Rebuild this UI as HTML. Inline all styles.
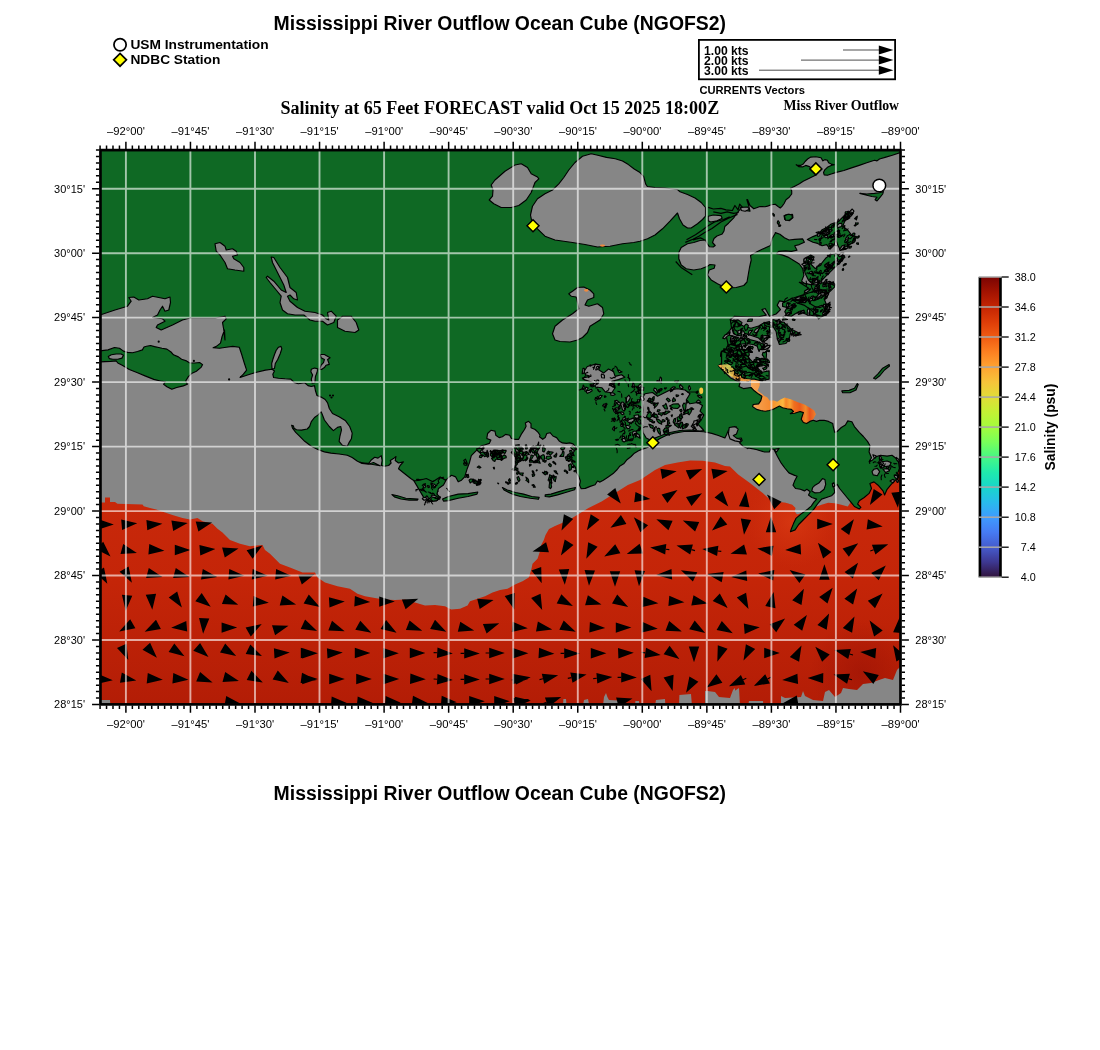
<!DOCTYPE html>
<html lang="en"><head><meta charset="utf-8"><title>Mississippi River Outflow Ocean Cube (NGOFS2)</title>
<style>html,body{margin:0;padding:0;background:#fff}body{width:1100px;height:1050px;overflow:hidden;font-family:"Liberation Sans",Arial,Helvetica,sans-serif}svg{display:block}</style>
</head><body>
<svg width="1100" height="1050" viewBox="0 0 1100 1050">
<defs>
<clipPath id="mapclip"><rect x="100.45" y="150.1" width="800.05" height="554.3"/></clipPath>
<linearGradient id="turbo" x1="0" y1="1" x2="0" y2="0">
<stop offset="0.0" stop-color="#30123b"/>
<stop offset="0.05" stop-color="#3d3790"/>
<stop offset="0.1" stop-color="#455bcd"/>
<stop offset="0.15" stop-color="#467bf3"/>
<stop offset="0.2" stop-color="#3e9bfe"/>
<stop offset="0.25" stop-color="#28bbec"/>
<stop offset="0.3" stop-color="#18d6cb"/>
<stop offset="0.35" stop-color="#20eaac"/>
<stop offset="0.4" stop-color="#46f884"/>
<stop offset="0.45" stop-color="#78ff5a"/>
<stop offset="0.5" stop-color="#a4fc3c"/>
<stop offset="0.55" stop-color="#c3f134"/>
<stop offset="0.6" stop-color="#e1dd37"/>
<stop offset="0.65" stop-color="#f6c33a"/>
<stop offset="0.7" stop-color="#fea331"/>
<stop offset="0.75" stop-color="#fc8021"/>
<stop offset="0.8" stop-color="#f05b12"/>
<stop offset="0.85" stop-color="#de3d08"/>
<stop offset="0.9" stop-color="#c42503"/>
<stop offset="0.95" stop-color="#a31301"/>
<stop offset="1.0" stop-color="#7a0403"/>
</linearGradient>
</defs>
<rect width="1100" height="1050" fill="#fff"/>
<g clip-path="url(#mapclip)">
<rect x="100.45" y="150.1" width="800.05" height="554.3" fill="#0f6924"/>
<rect x="95" y="145" width="812" height="565" fill="#868686"/>
<defs><linearGradient id="redg" gradientUnits="userSpaceOnUse" x1="0" y1="460" x2="0" y2="704"><stop offset="0" stop-color="#ca2a0b"/><stop offset="0.5" stop-color="#c42508"/><stop offset="1" stop-color="#b31d06"/></linearGradient><radialGradient id="redhi" gradientUnits="userSpaceOnUse" cx="792" cy="522" r="46"><stop offset="0" stop-color="#e44418" stop-opacity="0.5"/><stop offset="0.6" stop-color="#dc3a12" stop-opacity="0.25"/><stop offset="1" stop-color="#d03010" stop-opacity="0"/></radialGradient><radialGradient id="reddk" gradientUnits="userSpaceOnUse" cx="862" cy="672" r="52"><stop offset="0" stop-color="#9a1204" stop-opacity="0.6"/><stop offset="1" stop-color="#9a1204" stop-opacity="0"/></radialGradient></defs>
<path d="M97.5 502.5 105.0 502.5 105.0 497.5 110.0 497.5 110.0 502.0 115.0 502.0 117.5 503.8 142.5 504.5 143.8 506.2 150.0 508.0 156.2 509.5 165.0 512.5 172.5 515.0 182.5 518.0 190.0 519.5 197.5 518.0 202.5 521.2 212.5 523.8 217.5 528.8 222.5 532.5 227.5 537.5 230.0 540.0 240.0 543.8 250.0 546.2 262.5 545.0 265.0 550.0 270.0 553.8 275.0 558.8 280.0 563.8 290.0 567.5 302.5 572.5 315.0 572.5 317.5 577.5 325.0 582.5 337.5 586.2 350.0 588.8 357.5 593.8 365.0 596.2 365.0 596.2 375.0 598.0 383.8 599.5 395.0 600.0 405.0 599.5 415.0 602.5 425.0 605.5 435.0 605.0 445.0 606.2 451.2 609.5 460.0 608.8 467.5 605.5 470.0 601.2 477.5 598.8 485.0 596.2 492.5 592.5 500.0 590.0 507.5 588.8 515.0 584.5 522.5 581.2 528.8 577.5 531.2 570.0 532.5 563.8 537.5 558.8 540.0 551.2 541.2 545.0 543.8 540.0 545.5 535.0 549.0 529.0 555.0 526.0 562.0 523.0 568.9 520.0 588.5 508.0 601.6 501.5 614.7 493.3 627.8 485.0 640.0 480.0 647.5 475.0 655.0 470.0 665.0 465.0 677.5 462.5 690.0 460.5 702.5 460.7 715.0 462.5 725.0 466.0 730.0 466.4 738.2 474.5 749.6 482.7 762.7 492.9 769.3 499.0 774.2 502.4 779.0 502.0 785.6 502.7 792.2 504.8 795.5 508.0 794.6 511.4 797.0 514.6 805.0 512.0 814.3 507.3 821.6 504.8 828.2 502.7 834.7 503.2 841.3 504.8 847.8 506.5 852.0 500.0 850.0 480.0 870.0 470.0 905.0 470.0 905.0 710.0 95.0 710.0 95.0 502.0Z" fill="url(#redg)"/>
<path d="M97.5 502.5 105.0 502.5 105.0 497.5 110.0 497.5 110.0 502.0 115.0 502.0 117.5 503.8 142.5 504.5 143.8 506.2 150.0 508.0 156.2 509.5 165.0 512.5 172.5 515.0 182.5 518.0 190.0 519.5 197.5 518.0 202.5 521.2 212.5 523.8 217.5 528.8 222.5 532.5 227.5 537.5 230.0 540.0 240.0 543.8 250.0 546.2 262.5 545.0 265.0 550.0 270.0 553.8 275.0 558.8 280.0 563.8 290.0 567.5 302.5 572.5 315.0 572.5 317.5 577.5 325.0 582.5 337.5 586.2 350.0 588.8 357.5 593.8 365.0 596.2 365.0 596.2 375.0 598.0 383.8 599.5 395.0 600.0 405.0 599.5 415.0 602.5 425.0 605.5 435.0 605.0 445.0 606.2 451.2 609.5 460.0 608.8 467.5 605.5 470.0 601.2 477.5 598.8 485.0 596.2 492.5 592.5 500.0 590.0 507.5 588.8 515.0 584.5 522.5 581.2 528.8 577.5 531.2 570.0 532.5 563.8 537.5 558.8 540.0 551.2 541.2 545.0 543.8 540.0 545.5 535.0 549.0 529.0 555.0 526.0 562.0 523.0 568.9 520.0 588.5 508.0 601.6 501.5 614.7 493.3 627.8 485.0 640.0 480.0 647.5 475.0 655.0 470.0 665.0 465.0 677.5 462.5 690.0 460.5 702.5 460.7 715.0 462.5 725.0 466.0 730.0 466.4 738.2 474.5 749.6 482.7 762.7 492.9 769.3 499.0 774.2 502.4 779.0 502.0 785.6 502.7 792.2 504.8 795.5 508.0 794.6 511.4 797.0 514.6 805.0 512.0 814.3 507.3 821.6 504.8 828.2 502.7 834.7 503.2 841.3 504.8 847.8 506.5 852.0 500.0 850.0 480.0 870.0 470.0 905.0 470.0 905.0 710.0 95.0 710.0 95.0 502.0Z" fill="url(#redhi)"/>
<path d="M97.5 502.5 105.0 502.5 105.0 497.5 110.0 497.5 110.0 502.0 115.0 502.0 117.5 503.8 142.5 504.5 143.8 506.2 150.0 508.0 156.2 509.5 165.0 512.5 172.5 515.0 182.5 518.0 190.0 519.5 197.5 518.0 202.5 521.2 212.5 523.8 217.5 528.8 222.5 532.5 227.5 537.5 230.0 540.0 240.0 543.8 250.0 546.2 262.5 545.0 265.0 550.0 270.0 553.8 275.0 558.8 280.0 563.8 290.0 567.5 302.5 572.5 315.0 572.5 317.5 577.5 325.0 582.5 337.5 586.2 350.0 588.8 357.5 593.8 365.0 596.2 365.0 596.2 375.0 598.0 383.8 599.5 395.0 600.0 405.0 599.5 415.0 602.5 425.0 605.5 435.0 605.0 445.0 606.2 451.2 609.5 460.0 608.8 467.5 605.5 470.0 601.2 477.5 598.8 485.0 596.2 492.5 592.5 500.0 590.0 507.5 588.8 515.0 584.5 522.5 581.2 528.8 577.5 531.2 570.0 532.5 563.8 537.5 558.8 540.0 551.2 541.2 545.0 543.8 540.0 545.5 535.0 549.0 529.0 555.0 526.0 562.0 523.0 568.9 520.0 588.5 508.0 601.6 501.5 614.7 493.3 627.8 485.0 640.0 480.0 647.5 475.0 655.0 470.0 665.0 465.0 677.5 462.5 690.0 460.5 702.5 460.7 715.0 462.5 725.0 466.0 730.0 466.4 738.2 474.5 749.6 482.7 762.7 492.9 769.3 499.0 774.2 502.4 779.0 502.0 785.6 502.7 792.2 504.8 795.5 508.0 794.6 511.4 797.0 514.6 805.0 512.0 814.3 507.3 821.6 504.8 828.2 502.7 834.7 503.2 841.3 504.8 847.8 506.5 852.0 500.0 850.0 480.0 870.0 470.0 905.0 470.0 905.0 710.0 95.0 710.0 95.0 502.0Z" fill="url(#reddk)"/>
<path d="M563.0 706.0 563.4 699.0 566.0 699.0 566.6 706.0ZM583.0 706.0 584.0 700.0 588.0 699.0 589.4 706.0ZM603.0 706.0 604.0 697.0 606.0 693.0 607.4 697.0 609.0 700.0 619.0 700.4 619.4 706.0ZM635.0 706.0 635.4 701.0 639.0 701.0 639.4 706.0ZM655.0 706.0 656.0 700.0 665.0 699.0 665.4 706.0ZM679.0 706.0 679.4 695.0 691.0 694.0 692.0 706.0ZM707.0 706.0 707.4 691.0 715.0 692.0 719.0 697.0 730.0 698.0 733.0 690.0 735.0 688.0 735.0 706.0ZM705.0 706.0 705.0 691.0 713.0 692.0 717.0 697.0 725.0 702.0 729.0 702.0 733.0 692.0 739.0 688.0 740.0 706.0ZM748.0 706.0 749.0 701.0 763.0 701.0 763.4 706.0ZM781.0 706.0 781.0 696.0 785.0 698.0 801.0 697.0 803.0 691.0 805.0 696.0 813.0 700.0 823.0 701.0 825.0 692.0 829.0 690.0 835.0 697.0 841.0 693.0 843.0 688.0 849.0 689.0 857.0 690.0 863.0 684.0 871.0 683.0 879.0 680.0 885.0 678.0 893.0 680.0 897.0 670.0 902.0 665.0 905.0 665.0 905.0 706.0ZM101.0 706.0 101.0 700.0 110.0 700.0 110.4 706.0Z" fill="#868686"/>
<defs><linearGradient id="plume" gradientUnits="userSpaceOnUse" x1="751" y1="0" x2="817" y2="0"><stop offset="0" stop-color="#f3a85a"/><stop offset="0.14" stop-color="#f59a45"/><stop offset="0.29" stop-color="#f58a2f"/><stop offset="0.41" stop-color="#f8a535"/><stop offset="0.485" stop-color="#fbb840"/><stop offset="0.53" stop-color="#f58526"/><stop offset="0.59" stop-color="#f9a334"/><stop offset="0.65" stop-color="#f0701f"/><stop offset="0.74" stop-color="#ea5a1c"/><stop offset="0.83" stop-color="#f08a2a"/><stop offset="0.89" stop-color="#e8531b"/><stop offset="1" stop-color="#f28c30"/></linearGradient><linearGradient id="plume2" gradientUnits="userSpaceOnUse" x1="718" y1="0" x2="752" y2="0"><stop offset="0" stop-color="#f09a48"/><stop offset="0.3" stop-color="#eadc62"/><stop offset="0.55" stop-color="#f2a040"/><stop offset="1" stop-color="#f6a04a"/></linearGradient></defs>
<path d="M751.0 379.4 756.5 378.3 759.7 381.0 759.7 385.4 757.5 390.8 760.8 393.0 764.1 395.7 767.4 397.4 769.5 400.6 773.9 400.6 777.2 401.7 780.5 399.5 784.8 397.4 791.4 399.5 797.9 402.3 804.5 404.5 809.9 407.7 814.3 410.5 815.9 414.3 813.2 419.2 809.9 421.4 806.6 424.6 800.1 421.4 791.4 414.8 780.5 410.5 764.1 412.6 752.1 406.1 751.0 388.6Z" fill="url(#plume)"/>
<path d="M901.8 152.0 892.3 155.2 885.9 157.1 879.5 159.0 877.0 160.9 874.5 160.3 866.8 162.8 859.2 165.4 851.5 167.9 843.9 170.5 836.3 172.4 831.2 174.0 827.4 175.3 824.2 174.9 823.5 172.4 824.8 169.8 827.4 167.3 831.2 165.4 834.4 164.7 831.2 164.1 828.6 162.8 827.4 160.3 824.8 159.6 822.9 160.9 821.0 157.7 815.9 156.7 810.8 157.1 807.6 159.0 805.1 161.5 803.2 164.1 800.6 165.4 797.5 165.4 796.2 164.7 798.7 166.6 802.5 166.9 805.7 165.4 809.5 166.6 812.1 169.2 814.0 172.4 815.9 174.9 813.4 176.2 808.3 178.7 803.2 181.3 799.4 183.8 794.3 186.4 790.5 188.3 791.7 190.8 791.7 194.0 789.2 197.2 786.0 199.7 784.1 203.5 782.2 206.1 780.3 208.0 778.4 206.7 775.2 204.2 771.4 204.8 767.5 206.1 765.0 206.7 760.0 206.5 753.8 208.8 750.0 205.5 747.5 199.5 746.8 199.5 748.8 206.2 750.0 211.2 745.0 210.5 741.2 208.0 736.2 214.2 733.5 218.2 728.5 223.2 724.8 226.5 724.0 231.0 722.2 234.0 717.0 236.0 714.0 238.5 712.5 242.5 715.2 245.5 713.2 247.0 709.5 246.8 707.5 244.2 705.5 240.0 700.0 240.5 693.8 242.5 687.5 243.8 681.2 247.5 678.8 252.5 678.8 258.8 681.2 265.0 686.2 268.8 693.8 270.0 701.2 268.8 707.5 266.2 710.0 264.5 715.0 265.0 714.2 268.2 709.2 270.0 707.5 275.0 711.2 280.0 717.5 283.8 722.5 286.2 726.2 288.0 736.2 287.5 743.8 285.5 747.0 282.0 748.2 275.0 749.5 267.5 751.2 260.0 750.5 255.5 757.5 251.5 765.0 248.0 770.5 245.5 772.0 238.8 775.0 233.8 775.3 232.6 779.9 234.3 784.4 237.7 789.0 240.0 794.7 239.4 802.7 238.9 804.4 242.3 799.3 244.6 794.7 245.7 797.0 250.3 791.3 251.4 785.6 250.9 778.7 251.4 776.4 253.7 782.1 254.9 787.9 257.1 793.6 260.6 799.3 264.0 802.7 268.6 803.9 275.4 801.6 281.1 806.1 284.6 810.7 288.0 808.4 292.6 802.7 297.1 797.0 299.4 792.4 298.3 791.3 300.6 797.0 302.9 803.9 305.1 810.7 309.7 815.3 314.3 818.7 318.9 824.1 315.1 819.7 311.8 813.2 308.5 807.7 305.3 802.3 299.8 795.7 298.7 791.4 298.7 785.9 302.0 779.4 300.9 777.2 305.3 780.5 309.6 776.1 314.0 769.5 316.2 765.2 308.5 761.9 309.6 766.3 315.1 758.6 316.7 747.7 316.7 734.6 316.2 730.3 319.5 732.5 326.0 729.2 331.5 725.9 334.7 730.3 339.1 728.1 344.5 728.1 345.0 725.9 349.4 721.5 351.5 720.5 355.9 723.7 359.2 721.5 363.5 718.3 365.7 721.5 369.0 725.9 373.4 730.3 377.7 736.8 381.0 740.1 382.6 739.0 386.5 743.4 388.6 751.0 387.5 754.3 390.8 758.6 394.1 761.9 396.3 760.8 400.6 758.6 403.9 753.2 404.5 752.6 406.6 756.5 409.4 760.8 410.5 765.2 411.3 769.5 410.5 772.8 409.4 776.1 407.7 779.4 406.1 782.6 407.7 787.0 408.8 791.4 409.4 793.5 411.5 790.3 413.7 794.6 413.2 800.1 411.5 803.4 412.6 802.3 415.9 801.2 419.2 803.4 422.5 806.6 423.5 809.9 421.4 813.2 420.3 816.5 421.4 819.7 420.3 824.1 420.3 828.5 421.4 832.8 423.5 833.1 425.8 834.7 432.4 837.2 431.5 841.3 427.5 845.4 425.0 847.8 420.9 851.9 421.7 854.4 426.6 859.3 432.4 863.4 436.5 867.5 441.4 869.9 445.5 869.1 452.0 871.5 457.7 869.1 461.8 872.4 460.2 875.6 456.9 880.5 455.3 887.1 456.1 892.0 455.3 895.3 457.7 898.5 461.8 899.4 468.4 897.7 473.3 898.5 477.0 895.3 480.3 891.2 484.4 887.1 489.3 884.6 495.0 883.0 490.9 878.1 485.2 874.0 481.9 869.9 483.5 871.5 488.5 869.1 493.4 864.2 497.5 859.3 500.7 857.6 504.0 860.9 507.3 859.3 508.9 854.4 506.5 851.1 502.4 847.0 497.5 842.9 492.5 839.6 488.5 837.2 484.4 833.9 486.8 834.7 492.5 831.5 495.8 826.5 497.5 821.6 499.1 817.5 504.0 813.5 509.7 808.5 514.6 803.6 519.5 798.7 524.5 795.1 529.9 790.5 531.7 791.2 529.2 793.5 523.6 795.9 518.4 800.9 514.1 807.6 509.2 811.2 506.1 813.9 502.2 816.7 499.1 811.8 497.5 808.5 495.0 810.2 491.7 806.9 489.3 804.5 490.9 800.4 489.3 795.5 488.5 793.0 485.2 794.6 481.1 797.1 476.2 794.6 475.4 788.9 472.9 784.8 468.0 780.7 462.3 777.5 456.5 774.2 450.0 776.6 452.0 779.1 448.4 774.2 449.5 770.9 448.7 769.3 452.0 764.4 452.0 756.2 449.5 748.0 447.9 747.8 448.6 742.9 446.2 739.6 442.9 742.1 440.5 741.3 438.0 735.5 438.8 732.3 436.4 734.7 433.1 737.2 429.8 736.4 426.9 732.3 427.4 728.2 430.6 726.5 434.7 724.9 438.0 718.4 435.5 711.8 433.4 703.6 431.8 695.5 431.1 684.0 431.5 674.2 433.1 666.0 435.5 659.5 438.8 647.5 447.5 642.5 449.1 638.5 450.7 634.4 453.2 631.1 456.5 627.0 459.7 623.7 463.8 619.6 466.3 617.2 469.5 613.1 473.6 608.2 476.9 603.3 480.2 600.0 482.1 597.5 481.0 595.1 484.8 590.2 486.4 585.3 488.4 581.2 488.7 579.5 485.1 580.4 481.0 578.7 476.1 576.3 472.0 575.5 467.1 573.0 464.6 571.4 461.4 570.5 457.3 572.2 454.0 574.6 450.7 575.5 446.6 573.0 443.9 569.7 442.9 566.5 443.4 562.4 442.9 559.1 440.9 556.6 437.6 552.9 436.0 550.1 432.7 546.8 433.5 545.2 437.6 542.7 439.3 539.5 436.8 540.0 435.2 538.4 432.7 535.1 429.5 531.0 427.8 531.0 423.7 528.5 421.3 525.3 422.9 526.1 426.2 524.5 429.5 521.2 434.4 518.7 439.3 514.6 439.3 511.4 438.5 509.7 435.2 505.6 434.4 502.4 436.8 499.1 437.6 495.8 435.2 495.0 431.1 490.9 430.3 487.6 433.5 486.8 438.5 490.9 440.1 489.3 443.4 484.4 445.0 481.1 445.8 477.8 449.1 474.5 452.4 471.3 455.6 469.6 462.2 467.2 468.7 464.7 476.9 461.5 480.2 458.2 481.8 455.7 476.9 451.6 475.3 449.2 476.9 445.9 480.2 442.6 478.5 436.9 480.2 428.7 482.6 422.2 479.4 415.6 481.8 410.7 478.5 406.6 475.3 402.5 472.0 398.5 468.7 400.1 465.5 403.4 461.9 398.5 463.0 395.2 460.5 396.0 456.5 393.5 458.6 390.3 460.5 391.1 463.0 388.6 465.5 384.5 466.3 381.3 465.5 382.1 460.5 381.3 455.6 378.0 458.1 374.7 457.3 371.5 459.7 369.0 463.0 364.9 463.5 360.0 462.2 380.0 465.8 373.5 462.5 368.5 464.2 362.0 463.4 357.1 460.9 352.2 457.6 347.3 455.2 339.1 454.0 330.9 453.1 324.4 451.9 317.8 449.5 311.3 446.2 304.7 441.3 299.8 436.4 295.7 432.3 292.5 428.2 291.6 425.2 293.3 425.7 294.1 428.2 296.5 429.8 301.5 430.1 307.2 429.0 309.6 426.5 311.3 421.6 314.5 417.5 317.8 415.1 321.1 411.8 321.9 413.5 324.4 420.0 329.3 426.5 333.4 430.6 337.5 427.4 340.7 426.5 341.5 429.8 339.9 436.4 339.1 441.3 342.4 445.4 347.3 446.2 348.9 442.9 351.4 438.8 352.2 433.1 349.7 426.5 345.6 420.8 339.1 416.7 332.5 413.5 329.3 408.5 327.6 402.8 325.2 399.5 321.1 397.1 317.0 395.5 315.4 390.5 314.5 385.6 311.3 386.5 308.0 385.6 304.7 382.7 298.2 383.7 294.1 382.4 290.8 379.1 285.1 378.8 278.5 378.3 273.6 377.5 272.8 374.2 274.5 370.9 272.0 369.3 265.5 370.1 255.6 372.5 247.5 375.0 240.1 377.5 243.4 374.2 246.6 370.1 244.2 362.7 241.7 354.5 239.3 347.2 232.7 346.4 226.2 347.2 219.6 348.3 213.1 347.7 216.4 346.4 220.5 343.1 222.1 336.5 224.5 330.0 225.0 340.0 223.8 330.0 222.5 322.5 226.2 318.8 225.0 316.2 215.0 318.0 200.0 318.0 190.0 318.0 182.5 320.0 172.5 325.0 161.2 330.0 156.2 327.5 157.5 325.0 165.0 321.2 162.5 318.8 152.5 317.5 157.5 315.0 160.0 310.0 162.5 306.2 165.0 311.2 168.8 310.0 170.5 302.5 170.0 297.0 165.0 298.8 158.8 297.5 152.5 296.2 147.5 298.8 138.8 300.0 133.8 297.0 128.8 297.5 131.2 301.2 127.5 306.2 115.0 310.0 100.0 315.0 95.0 315.0 95.0 145.0 905.0 145.0 905.0 153.0Z" fill="#0f6924" stroke="#000" stroke-width="1.15" stroke-linejoin="round"/>
<path d="M215.0 243.8 220.0 242.5 225.0 246.2 226.2 250.0 232.5 248.8 236.2 251.2 237.5 255.0 232.5 256.2 233.8 258.8 240.0 262.5 243.8 267.5 243.8 271.2 235.0 270.0 227.5 268.8 225.0 262.5 220.0 255.0 216.2 251.2ZM271.2 257.0 273.8 257.5 280.0 267.5 287.5 277.5 290.0 287.5 296.2 292.5 297.5 300.0 293.8 298.8 290.0 295.0 287.5 296.2 290.0 301.2 297.5 307.5 305.0 311.2 315.0 312.5 322.5 315.0 326.2 318.8 328.8 320.0 327.5 312.5 331.2 311.2 336.2 316.2 333.8 322.5 327.5 325.0 322.5 321.2 315.0 321.2 310.0 320.0 303.8 315.0 295.0 315.0 287.5 313.8 282.5 310.0 280.0 302.5 281.2 296.2 276.2 290.0 270.0 282.5 266.2 277.5 267.5 276.2 273.8 281.2 281.2 290.0 286.2 292.5 283.8 285.0 277.5 272.5 272.5 262.5ZM337.5 320.0 342.5 316.2 351.2 316.2 356.2 322.5 358.8 330.0 355.0 332.5 345.0 331.2 337.5 327.5ZM491.2 185.0 495.0 180.0 505.0 171.2 515.0 165.0 521.2 163.8 527.5 167.5 531.2 173.8 537.5 177.0 538.8 178.8 535.0 182.5 531.2 192.5 526.2 200.0 518.8 205.5 511.2 207.5 501.2 207.5 493.8 203.8 489.2 200.0 492.5 196.2 493.0 190.0ZM591.2 153.8 597.8 155.2 606.5 157.4 615.3 158.8 622.5 161.0 628.4 164.6 634.2 169.0 640.0 172.6 643.6 176.3 645.8 184.3 647.3 186.5 655.0 187.5 665.0 188.0 677.5 189.5 680.0 191.8 687.5 194.5 695.0 198.0 701.2 202.5 705.5 207.5 705.5 216.2 702.5 219.5 697.5 223.8 691.2 228.0 687.5 228.0 683.0 225.0 679.5 218.8 677.5 213.0 670.0 221.2 662.5 228.8 655.0 235.0 647.5 238.8 640.0 241.2 633.8 242.5 622.5 243.8 610.0 246.2 597.5 247.0 585.0 244.5 572.5 242.5 555.0 240.0 545.0 236.2 537.5 228.8 532.0 222.5 530.5 215.0 532.5 206.2 537.5 198.8 545.0 193.8 552.5 190.0 558.8 183.8 563.8 177.5 568.8 170.0 575.0 162.5 582.5 156.2ZM568.8 293.8 572.5 291.2 577.5 287.5 583.8 287.0 590.0 290.0 593.8 293.8 593.8 297.5 587.5 300.0 585.0 305.0 588.8 306.2 597.5 303.8 602.5 307.5 603.8 313.8 600.0 320.0 590.0 326.2 587.5 332.5 582.5 337.5 577.5 340.0 570.0 342.0 560.0 341.5 555.0 340.0 552.5 333.8 555.0 326.2 562.5 320.0 572.5 313.8 578.8 308.8 577.5 302.5 576.2 297.0 571.2 296.2ZM642.0 398.8 645.0 393.8 652.5 392.5 657.5 396.2 662.5 393.8 670.0 390.0 677.5 388.8 685.0 390.0 690.0 393.8 686.2 400.0 690.0 403.8 697.5 402.5 702.5 405.5 700.0 411.2 703.8 415.0 701.2 420.0 697.5 423.8 701.2 427.5 703.8 430.5 700.0 431.0 690.0 430.0 680.0 430.5 670.0 432.5 662.5 435.0 655.0 438.0 651.2 440.5 646.2 438.0 643.0 432.5 642.0 422.5 643.0 410.0ZM815.1 485.2 819.2 482.7 822.5 478.6 824.9 479.5 825.7 484.4 824.1 489.3 820.0 492.5 815.1 492.9 811.8 490.9 812.6 487.6ZM832.3 483.5 833.9 482.7 834.7 486.0 832.8 486.8ZM874.0 469.2 877.3 468.4 879.7 471.6 877.3 475.7 873.2 474.9 872.0 471.6ZM882.2 461.8 887.1 461.0 891.2 462.6 889.5 465.9 884.6 466.7 881.4 465.1ZM883.0 469.2 887.9 468.4 889.5 470.8 885.5 472.5ZM729.2 427.5 734.9 426.6 738.2 429.1 736.5 434.0 733.3 435.6 736.5 438.1 741.5 439.7 739.8 441.9 734.9 440.9 730.0 438.9 728.4 434.0ZM278.5 347.2 281.0 346.4 281.8 348.8 280.2 353.7 277.7 359.5 275.3 363.5 274.5 368.5 272.0 368.9 271.7 363.5 272.8 359.5 274.5 354.5 276.1 350.5ZM311.3 369.3 314.5 368.0 317.8 368.9 317.0 372.5 315.4 376.6 314.9 382.7 312.1 383.2 311.3 379.1 312.6 375.0 310.9 371.7ZM320.3 354.5 324.4 354.5 330.1 357.8 327.6 359.5 329.3 364.4 326.0 365.2 324.4 367.6 321.9 369.3 319.5 369.3 321.1 365.2 323.5 362.7 324.4 359.5 321.1 357.8ZM584.0 371.5 587.3 366.5 595.5 364.1 600.4 364.9 598.7 369.8 603.6 373.1 608.5 369.0 613.5 371.5 615.1 376.4 621.6 374.7 624.9 377.2 618.4 379.6 611.8 381.3 615.1 387.8 611.8 392.7 605.3 391.9 602.0 387.8 595.5 387.0 593.8 382.9 584.0 379.6 582.4 378.0 590.5 376.4 585.6 374.7Z" fill="#868686" stroke="#000" stroke-width="1.15" stroke-linejoin="round"/>
<path d="M98.2 351.1 108.0 349.9 114.5 347.5 119.5 348.3 123.5 351.1 127.6 352.4 132.5 352.7 137.5 351.5 142.4 349.9 144.0 347.0 146.5 346.3 150.5 345.5 154.6 346.6 158.7 347.5 162.0 348.3 166.9 349.1 171.0 352.0 173.5 354.8 178.4 356.9 181.6 359.2 186.5 360.9 189.8 363.0 194.7 363.0 199.6 362.5 202.6 364.6 201.3 367.1 196.4 371.2 191.5 373.6 188.2 376.9 185.7 381.0 187.4 384.3 183.3 385.9 176.7 387.5 171.8 389.2 166.9 386.7 163.6 384.3 165.3 381.8 160.4 381.0 153.8 379.4 145.6 376.1 137.5 372.8 129.3 369.5 122.7 365.5 117.8 363.0 116.2 360.9 110.5 361.4 98.2 361.9ZM859.8 193.4 866.8 194.0 874.5 193.4 879.5 192.7 883.4 191.5 882.7 194.0 880.2 197.2 877.0 201.0 875.1 199.7 877.0 197.2 871.9 196.5 866.8 195.3ZM784.1 215.6 792.4 214.4 793.0 217.5 789.2 220.7 784.7 219.5ZM391.9 494.6 397.6 495.7 405.8 498.2 414.0 498.7 418.1 499.0 417.3 500.1 409.1 500.1 400.9 499.0 394.4 496.9ZM442.6 499.0 448.4 496.5 458.2 494.1 468.0 493.6 477.8 492.0 477.0 494.1 468.0 496.5 458.2 498.2 448.4 500.6 443.5 501.1ZM502.4 487.5 507.3 490.0 515.5 492.5 523.6 494.1 531.8 496.5 539.2 497.4 538.4 499.3 530.2 498.2 520.4 496.5 512.2 494.1 504.0 490.0ZM416.5 481.8 425.5 485.1 428.7 491.6 425.5 494.9 422.2 491.6 418.9 486.7ZM424.6 496.5 432.0 498.2 440.2 497.4 436.9 500.6 428.7 501.5 424.6 499.0ZM545.2 494.9 550.9 494.1 559.1 491.6 567.3 489.2 575.5 487.5 574.6 489.7 565.6 492.5 557.5 494.9 549.3 496.9 545.2 496.5ZM873.6 378.2 878.2 373.6 882.7 368.2 889.1 364.5 889.5 366.0 884.5 370.0 880.0 375.5 875.5 379.1ZM841.8 390.9 849.1 390.4 854.5 388.2 857.3 383.6 858.2 384.5 856.0 390.0 850.0 392.7 842.7 392.7ZM785.2 215.0 789.0 214.4 792.8 215.0 792.2 218.2 789.0 220.1 785.2 219.5Z" fill="#0f6924" stroke="#000" stroke-width="1.15" stroke-linejoin="round"/>
<path d="M807.3 239.4 813.0 236.6 818.7 234.3 822.1 229.7 826.7 227.4 831.3 224.0 834.7 222.9 838.1 221.7 842.7 217.1 847.3 212.6 851.9 210.9 853.0 213.7 849.6 217.1 845.0 220.6 842.7 226.3 847.3 229.7 851.9 235.4 856.4 236.6 854.1 242.3 849.6 244.6 846.1 249.1 840.4 250.3 838.1 245.7 835.9 240.0 833.6 245.7 830.1 249.1 826.7 244.6 822.1 245.7 817.6 243.4 813.0 242.3ZM803.9 259.4 810.7 254.9 814.1 257.1 810.7 264.0 815.3 268.6 821.0 264.0 825.6 258.3 830.1 254.9 834.7 253.7 842.7 254.9 845.0 257.1 840.4 261.7 835.9 266.3 831.3 270.9 826.7 275.4 822.1 280.0 817.6 283.4 813.0 284.6 808.4 280.0 805.0 273.1 803.9 266.3ZM799.3 282.3 810.7 284.6 818.7 283.4 826.7 282.3 833.6 282.3 834.7 286.9 830.1 291.4 825.6 294.9 819.9 298.3 814.1 300.6 808.4 299.4 802.7 297.1 805.0 291.4 808.4 288.0ZM791.3 298.3 799.3 297.1 808.4 299.4 810.7 304.0 816.4 307.4 824.4 305.1 830.1 304.0 829.0 309.7 826.7 314.3 822.1 316.6 815.3 314.3 810.7 309.7 803.9 305.1 797.0 302.9ZM784.4 216.0 787.9 214.3 791.9 214.9 792.4 217.7 789.6 220.0 785.6 220.3ZM730.3 319.5 736.8 322.7 743.4 326.0 751.0 328.2 758.6 326.0 764.1 322.7 769.5 321.6 769.5 333.6 767.4 339.1 763.0 342.4 758.6 338.0 752.1 335.8 745.5 333.6 739.0 335.8 733.5 333.6 731.4 327.1ZM725.9 334.7 732.5 335.8 739.0 338.0 747.7 339.1 756.5 341.3 764.1 344.5 769.5 346.7 767.4 348.9 760.8 347.8 753.2 344.5 745.5 343.5 739.0 344.5 732.5 346.7 728.1 344.5ZM723.7 348.9 731.4 351.1 739.0 353.3 745.5 357.6 749.9 362.0 754.3 366.4 756.5 370.0 747.7 370.0 743.4 365.3 736.8 360.9 730.3 359.8 724.8 357.6ZM772.8 319.5 780.5 321.6 787.0 324.9 791.4 329.3 797.9 332.5 801.2 334.7 795.7 335.8 790.3 333.6 789.2 339.1 785.9 343.5 779.4 344.5 777.2 338.0 776.1 331.5 772.8 326.0ZM782.6 303.1 791.4 298.7 797.9 296.5 804.5 294.4 811.0 292.2 817.5 290.0 824.1 290.0 828.5 294.4 824.1 298.7 826.3 304.2 829.5 309.6 826.3 315.1 820.8 316.2 813.2 315.6 806.6 314.5 800.1 311.8 795.7 313.5 791.4 316.2 787.0 315.6 784.8 311.8 787.0 307.5 782.6 306.4ZM728.1 345.0 736.8 347.2 743.4 351.5 747.7 357.0 752.1 361.4 758.6 362.5 764.1 361.4 763.0 365.7 756.5 366.8 760.8 371.2 767.4 376.6 763.0 378.8 756.5 377.7 751.0 375.5 745.5 371.2 740.1 369.0 736.8 363.5 732.5 360.3 728.1 358.1 723.7 359.2 720.5 355.9 721.5 351.5 725.9 349.4Z" fill="#0f6924" stroke="#000" stroke-width="1.15" stroke-linejoin="round"/>
<path d="M833.7 224.0 834.6 224.6 833.9 226.7 832.8 227.4 833.2 224.9ZM838.6 229.6 838.8 233.5 839.0 237.0 837.7 235.4 837.7 233.3ZM848.6 217.2 849.9 217.8 847.5 219.4 845.2 220.0 845.0 218.9 846.2 217.3 848.7 215.7ZM831.5 245.4 830.9 247.0 830.2 248.5 829.0 248.8 828.6 247.8 830.2 245.8ZM845.9 215.6 845.2 217.0 843.6 218.3 843.7 217.2 844.4 216.0ZM838.8 231.5 839.2 232.9 836.7 234.4 834.4 236.8 833.5 235.7 834.2 233.0 837.5 230.6ZM845.5 215.0 846.2 214.9 845.9 216.4 845.0 218.5 843.8 218.8 843.3 217.7 844.4 215.7 845.1 214.4ZM830.0 233.7 828.0 234.4 825.9 234.8 823.9 234.0 821.4 233.3 821.3 232.0 823.8 231.7 826.1 232.0 827.5 232.7ZM827.7 228.6 827.2 229.7 826.6 231.1 826.1 230.5 825.5 230.1 826.7 228.7ZM827.2 236.0 828.4 237.3 825.6 237.7 823.8 236.4 823.1 235.6 824.9 235.4 825.8 235.3 827.4 235.4ZM820.6 242.5 821.1 242.4 821.2 243.4 820.7 244.6 820.2 244.5 819.7 244.9 820.0 243.8 819.6 243.0 820.2 242.4ZM835.8 233.9 834.7 236.3 830.9 238.2 830.1 237.0 830.0 235.7 832.7 234.5ZM845.2 244.7 843.3 247.9 841.6 249.6 840.1 250.4 839.6 249.7 840.3 248.3 842.1 245.8ZM833.1 236.2 831.6 237.3 829.4 237.3 829.6 236.4 831.1 236.2ZM854.3 237.7 854.6 238.8 854.2 240.5 853.3 241.2 853.0 240.1 853.5 238.5ZM847.0 236.7 848.5 237.5 847.8 241.9 846.3 241.5 845.6 240.4 845.9 238.2ZM819.6 233.0 820.7 233.1 819.5 236.0 817.9 236.5 817.4 234.9 818.8 232.6ZM848.1 244.8 848.6 244.4 848.4 245.4 848.1 245.8 847.8 247.6 847.6 246.4 847.2 246.1 847.2 244.9 847.7 244.1ZM827.1 228.7 824.0 231.5 822.3 232.6 822.2 231.6 823.4 230.5ZM853.2 210.2 854.0 211.1 852.7 213.6 851.4 215.7 849.9 216.4 847.8 217.4 848.7 214.4 849.9 211.4 852.2 209.0ZM823.0 233.2 821.4 234.1 818.7 233.7 816.1 232.5 818.7 231.7 821.2 232.3ZM848.3 246.5 847.9 248.0 845.4 248.6 843.0 249.7 843.8 248.3 844.7 247.3 846.9 246.0ZM849.7 215.6 849.6 216.7 848.4 217.8 847.2 218.9 846.7 218.3 847.1 217.0 848.8 215.1ZM828.9 226.3 828.6 230.9 825.2 235.9 825.1 232.4 825.7 230.1ZM835.5 237.2 835.6 238.2 836.0 239.7 835.1 240.1 834.5 239.4 835.1 238.1ZM853.2 213.3 850.7 214.1 848.6 215.0 846.9 214.1 848.4 213.3 848.6 212.3 851.6 212.2ZM838.7 230.2 839.8 230.7 838.8 234.0 837.8 232.8 837.7 232.1 837.8 230.4ZM843.4 234.8 841.2 236.5 839.9 237.1 838.7 237.5 838.1 237.2 836.7 236.6 839.1 235.2 840.4 235.7ZM841.9 224.3 842.0 225.1 841.3 226.6 839.6 227.1 837.8 228.3 837.9 227.1 836.5 226.1 839.3 223.4 841.6 223.2ZM831.0 229.5 832.3 230.1 830.6 231.9 829.2 232.6 830.0 229.8Z" fill="#868686" stroke="#000" stroke-width="1.15" stroke-linejoin="round"/>
<path d="M822.0 235.7L822.9 232.9L824.1 230.3M814.6 239.4L815.2 239.6L815.7 239.5L816.2 239.5L816.8 239.6M832.1 243.8L833.3 244.3L834.5 244.7L835.5 245.6L836.8 245.8M825.8 228.7L825.9 228.2L825.9 227.6L825.5 227.3L825.8 226.9M844.1 230.7L846.3 230.3L848.1 228.8M847.1 244.2L848.8 242.4L851.1 241.5M831.6 225.9L833.6 224.7L835.7 223.6M819.8 240.2L820.7 238.2L821.6 236.3M842.1 222.1L842.4 220.9L843.7 221.0L845.0 221.0L844.9 219.8M829.8 243.2L831.1 243.2L831.8 244.3L832.5 245.4M844.0 221.2L844.6 220.3L845.7 220.0L846.6 219.3L846.7 218.2M831.4 228.6L831.7 227.8L831.5 227.0L831.6 226.1M843.6 220.8L843.0 220.2L843.6 219.6L844.0 218.8L844.6 218.0M839.8 235.9L840.2 234.0L839.4 232.2L839.3 230.2M847.2 235.7L848.5 235.2L849.7 234.3L850.6 235.5L852.0 235.4M843.6 236.6L844.3 235.9L844.8 235.0L844.8 234.1M820.0 233.3L821.6 233.1L823.1 233.9L824.6 233.2M820.6 240.5L820.8 239.1L821.9 238.2L823.2 237.5M826.9 228.4L829.3 227.2L832.0 227.4M844.8 242.6L846.8 242.6L847.9 244.3M847.9 244.6L849.3 244.2L850.7 243.7M847.8 238.5L850.6 238.7L852.5 236.7M852.5 236.3L852.9 235.6L853.2 234.8L853.9 234.3M820.1 242.0L819.4 240.8L818.8 239.6L819.4 238.4M827.5 236.5L827.7 235.8L827.2 235.3L826.9 234.7L826.8 234.0M825.5 230.3L827.1 230.3L828.2 229.1L829.8 229.5M843.6 230.8L845.0 229.3L844.4 227.5L844.9 225.5M831.1 246.8L830.1 245.8L828.9 244.8L829.2 243.4M827.7 238.8L828.5 238.3L829.0 237.5L829.9 237.1L830.7 236.6M853.3 240.3L854.1 239.0L855.2 237.9L854.9 236.4M846.8 214.3L847.4 214.6L847.9 214.1L848.5 213.8L849.1 214.0M847.2 241.1L847.7 240.1L846.9 239.4M837.0 225.2L837.4 222.3L839.7 220.5M852.3 235.9L853.2 235.3L854.1 235.9M830.2 241.5L831.5 240.1L833.4 239.9L834.4 238.3M829.9 241.8L831.3 241.7L832.0 240.6L832.4 239.3M842.2 228.5L843.0 228.0L842.8 227.1L843.2 226.3L843.9 225.7M844.6 241.6L844.8 240.6L845.7 239.9L845.6 238.9M835.7 223.7L836.7 222.6L837.9 221.7L837.8 220.2L838.6 219.0" fill="none" stroke="#000" stroke-width="1.1" stroke-linecap="round" stroke-linejoin="round"/>
<path d="M841.2 259.8 840.8 260.6 840.5 261.9 838.6 263.2 839.1 261.6 839.7 260.7 840.6 259.4ZM812.6 272.0 812.4 273.4 808.7 273.7 809.6 272.2 811.7 271.2ZM811.2 256.6 811.7 258.9 810.0 261.5 808.7 262.1 808.0 261.0 809.5 259.2ZM807.2 267.2 806.1 268.7 805.8 269.7 804.3 270.9 803.7 270.3 804.0 269.4 804.1 267.9 806.1 267.1ZM833.8 261.7 832.6 264.6 831.9 267.1 829.7 268.1 827.0 269.7 828.1 267.0 829.7 265.2 830.7 264.7ZM828.8 273.6 828.0 274.1 826.7 273.9 825.9 273.9 825.7 273.6 825.7 273.3 826.2 273.2 826.8 273.0 828.1 273.0ZM816.3 278.0 818.1 276.4 817.4 280.3 817.0 284.3 815.4 283.1 814.3 280.5 815.7 278.3ZM837.5 259.0 837.7 259.8 837.1 261.3 835.4 263.0 834.4 262.7 835.0 261.2 835.5 260.0 837.2 257.5ZM843.9 252.9 841.9 255.4 839.3 256.7 838.4 255.7 840.9 252.8ZM821.4 263.8 820.7 265.2 819.3 265.9 818.1 265.8 819.8 263.9ZM809.5 264.2 809.5 266.3 809.7 266.9 810.2 268.9 809.2 268.7 808.3 269.7 808.7 267.5 808.0 266.3 808.6 264.2ZM810.8 257.8 809.6 258.7 807.7 258.3 805.6 257.8 807.2 257.0 809.1 257.3ZM819.6 272.7 819.4 273.9 816.8 273.3 815.6 272.9 815.0 272.1 816.8 271.9 817.8 272.3ZM813.1 258.8 814.0 260.1 811.3 259.3 809.1 259.4 808.0 258.4 809.7 257.8 811.5 256.9 813.6 258.0ZM831.8 265.5 830.8 266.2 829.4 267.0 828.2 266.5 828.7 265.8 829.1 265.0 830.3 265.5ZM842.6 259.1 841.9 261.0 839.1 262.9 836.2 264.1 835.7 262.8 835.1 262.3 835.0 261.1 837.5 260.1 839.3 259.8ZM806.3 268.5 806.4 269.0 805.4 269.2 804.9 269.0 805.9 268.3ZM828.4 270.4 828.4 271.2 829.4 272.4 828.0 274.6 827.0 274.4 827.2 272.6 827.2 271.7 827.7 269.3ZM817.1 279.1 816.1 279.4 815.1 279.4 814.1 279.2 813.6 278.8 813.7 278.4 814.6 278.4 815.1 278.5 815.5 278.7ZM805.3 258.1 806.6 258.7 805.1 263.9 804.0 260.8 804.2 258.6ZM831.8 268.0 829.8 269.5 827.8 271.4 824.2 271.6 826.4 268.9 829.8 267.7ZM829.1 262.0 827.6 265.4 825.1 267.0 824.7 266.0 825.8 264.1ZM809.0 263.1 806.9 264.4 805.1 265.5 803.2 265.2 801.8 264.3 804.5 263.0 806.6 263.1ZM812.8 278.2 813.2 280.3 813.2 281.4 812.8 283.8 812.4 281.5 812.2 280.0ZM831.9 265.2 832.5 266.5 829.5 267.1 826.2 267.4 825.6 266.1 824.4 265.1 826.6 264.2 829.0 264.3 830.3 264.7ZM830.3 256.1 830.0 256.9 828.7 256.3 827.4 255.4 830.1 255.3Z" fill="#868686" stroke="#000" stroke-width="1.15" stroke-linejoin="round"/>
<path d="M830.3 255.0L830.6 254.5L830.3 254.1L830.7 253.7L830.7 253.2M834.9 256.4L835.8 255.2L836.7 254.0L838.2 254.4M833.3 265.1L834.0 263.8L834.2 262.3L835.4 261.5L836.6 260.7M805.1 269.7L805.4 267.8L804.6 266.0M839.3 256.5L840.7 256.5L841.9 255.9M834.7 255.4L835.3 255.1L835.3 254.5L835.6 254.0L835.8 253.4M838.1 261.8L839.0 263.1L840.5 262.6M808.2 263.8L807.3 262.7L808.2 261.7L807.2 260.6L806.6 259.4M814.7 281.5L815.0 280.7L815.7 280.1L816.4 279.6L817.2 279.4M810.2 279.7L812.5 278.7L815.0 278.6M817.6 273.5L818.7 272.7L820.0 272.8L821.3 273.2M810.2 258.5L810.3 257.7L810.2 256.9L811.0 256.6L810.9 255.7M810.6 274.0L811.6 273.1L812.4 272.1M830.1 257.0L829.1 255.5L830.5 254.5M804.8 261.7L805.6 262.1L806.6 261.8M830.3 267.7L832.4 266.9L832.4 264.7M820.3 275.7L820.5 273.9L821.2 272.3L821.2 270.5M811.4 273.9L812.4 274.6L813.2 273.7L814.1 273.0M812.8 275.8L813.6 275.4L814.5 275.7L815.4 275.9M825.3 266.4L826.0 266.1L826.7 266.3L827.1 266.9L827.7 267.3M808.4 263.1L811.3 263.1L814.2 262.8M842.1 255.8L842.8 255.8L843.4 255.5L843.9 255.9L844.5 255.7M816.0 270.6L817.0 269.2L816.4 267.5L817.2 266.0M831.8 268.6L833.3 267.7L834.8 266.9L836.5 266.7M821.5 273.4L822.6 273.7L823.0 272.6L824.2 272.8M809.6 279.4L810.2 278.5L810.6 277.6M815.9 272.5L818.6 272.4L820.5 270.4M810.1 281.6L810.8 281.7L811.4 281.9L812.1 282.0L812.6 282.4M812.0 275.1L813.5 274.6L813.9 272.9L814.3 271.3M821.1 279.2L822.1 278.2L822.3 276.8L823.3 275.8M824.4 270.4L825.0 270.3L825.7 270.4L826.3 270.6M807.0 273.4L807.1 272.9L807.7 272.9L808.1 273.1L808.7 273.2M807.7 268.7L809.0 268.9L810.3 269.0" fill="none" stroke="#000" stroke-width="1.1" stroke-linecap="round" stroke-linejoin="round"/>
<path d="M812.8 296.0 813.7 296.4 812.1 298.2 811.3 299.2 810.5 299.5 810.5 298.8 810.2 298.4 810.8 297.3 811.8 296.2ZM830.9 286.7 831.1 288.3 830.1 290.2 828.9 290.5 829.4 287.4ZM830.6 281.9 829.5 283.1 827.6 283.6 826.5 283.8 823.0 285.0 824.0 283.5 824.4 282.1 827.1 282.3 829.3 281.4ZM819.5 285.0 819.2 288.2 819.1 289.1 819.3 291.1 818.3 292.3 817.9 290.7 816.9 290.6 817.0 288.0 818.3 287.0ZM820.3 291.4 820.4 292.8 817.1 293.0 816.1 292.3 814.2 292.1 814.4 291.1 816.7 289.8 820.2 290.0ZM816.8 285.7 817.5 288.4 816.9 291.2 816.0 290.9 814.7 291.3 814.9 287.3ZM830.3 283.3 830.4 285.4 830.8 287.2 829.7 287.6 829.3 287.2 828.3 286.7 829.1 284.2ZM826.8 290.9 824.6 291.0 823.8 290.8 822.6 290.0 825.3 289.7ZM827.0 285.2 826.4 286.8 822.6 286.2 823.2 284.8 825.5 284.7ZM835.1 284.6 835.0 285.3 833.4 285.1 832.6 284.7 831.3 284.2 832.6 283.9 833.6 283.9 834.9 284.0ZM825.7 279.7 827.1 279.3 826.2 282.4 825.9 284.9 824.7 286.1 823.2 286.8 822.9 284.4 824.1 281.9 824.9 281.5ZM810.7 288.8 809.5 290.3 805.9 293.0 804.4 291.1 808.7 289.1ZM820.8 294.7 821.3 295.5 819.3 296.8 818.2 298.5 816.2 299.3 817.3 297.4 816.9 296.6 818.3 295.2 819.7 294.8ZM818.3 283.5 817.3 284.8 814.6 284.8 811.2 284.5 814.2 283.2 817.0 282.5Z" fill="#868686" stroke="#000" stroke-width="1.15" stroke-linejoin="round"/>
<path d="M806.4 286.2L806.1 284.5L806.4 282.8L806.2 281.0M817.6 285.0L818.8 283.4L818.2 281.5L818.0 279.5M820.8 284.0L821.1 282.7L821.7 281.4L821.5 280.1L822.4 279.1M814.4 299.6L816.5 298.1L818.0 295.9M806.4 285.6L806.3 285.1L806.5 284.5L806.5 284.0L806.9 283.6M824.3 283.9L825.7 283.6L826.8 282.6M813.2 290.5L812.8 289.1L811.9 287.9L811.5 286.5L811.4 285.0M828.9 283.1L830.1 283.6L831.3 283.4L832.1 282.5L833.2 281.9M825.8 293.1L826.4 291.7L826.9 290.2L827.0 288.7M816.3 285.4L816.9 285.1L817.1 284.4L817.7 284.1L818.1 283.7M804.8 297.5L805.8 296.4L805.0 295.2L804.9 293.7M815.3 288.5L816.2 288.2L817.2 287.9L818.1 288.2L818.9 287.7M815.3 298.5L815.8 297.8L815.9 297.0L816.2 296.2M829.0 288.4L829.2 287.1L829.4 285.8L828.9 284.6M817.5 293.8L818.9 293.6L820.1 292.9L821.3 292.1L822.5 291.3M831.0 283.3L831.4 282.6L832.1 282.9L832.8 282.5L833.3 281.8M817.9 285.7L818.9 283.0L819.4 280.2M829.2 291.8L828.9 291.2L828.6 290.6L829.0 290.0L829.2 289.4" fill="none" stroke="#000" stroke-width="1.1" stroke-linecap="round" stroke-linejoin="round"/>
<path d="M804.8 299.6 803.1 301.3 801.6 301.9 798.6 303.0 800.3 300.9 802.9 299.0ZM824.9 304.8 826.1 303.8 825.9 306.7 826.0 309.4 824.9 312.2 824.4 307.8 823.1 306.7 823.8 304.1ZM828.7 312.2 827.2 312.8 824.0 313.2 824.7 311.7 827.1 311.8ZM801.8 298.3 802.4 298.9 800.7 299.2 800.1 299.4 798.9 299.4 800.3 298.6 801.0 298.5ZM816.5 306.9 815.3 308.5 813.7 309.6 812.9 309.0 814.6 306.9ZM814.3 310.3 814.5 311.5 814.3 312.5 813.7 313.8 813.4 312.6 813.7 311.2ZM818.0 309.4 817.9 311.4 813.9 312.9 814.2 311.0 816.1 309.7ZM827.6 312.9 828.1 313.3 827.0 313.4 825.8 313.8 825.2 313.3 826.2 312.9 826.4 312.7 826.9 312.6 827.6 312.6ZM816.5 309.2 816.0 309.8 814.5 309.8 813.7 309.1 815.8 308.9ZM830.0 303.8 829.7 305.9 829.5 307.2 828.8 309.3 827.4 310.4 827.0 309.2 827.5 307.6 827.5 306.1 828.7 304.6ZM805.4 300.0 806.5 300.3 805.5 302.6 803.3 302.4 801.1 303.0 801.6 301.4 803.6 299.9 806.6 297.1ZM799.8 298.4 798.5 299.7 795.9 299.0 794.9 297.8 798.2 297.5ZM829.3 304.5 829.0 305.6 826.8 306.4 826.0 305.9 826.3 304.9 828.3 304.1ZM823.4 305.9 821.7 306.8 819.7 307.6 817.7 307.0 819.9 306.0 821.9 305.2Z" fill="#868686" stroke="#000" stroke-width="1.15" stroke-linejoin="round"/>
<path d="M824.4 310.6L824.7 309.5L825.3 308.5L825.5 307.4M824.3 306.8L825.2 306.6L825.7 305.9L826.2 305.1M823.4 311.3L824.9 310.1L825.7 308.3M828.1 310.3L828.8 309.8L829.5 309.5L830.3 309.6M797.3 300.8L798.2 300.7L798.9 300.1L799.6 299.7L800.5 299.3M803.4 300.6L804.4 300.8L805.3 301.3L806.3 301.6M807.6 300.2L808.6 299.8L808.9 298.8L808.5 297.9L809.1 297.0M815.8 311.2L816.6 310.6L817.6 310.6M824.0 308.5L824.9 308.6L825.8 308.4L826.7 308.7M826.1 307.1L825.7 306.5L825.4 305.9L825.8 305.3L825.5 304.7M795.2 300.5L796.1 299.5L797.4 299.4L798.7 298.9L799.9 298.5M800.5 302.5L799.7 301.7L799.0 300.8L799.2 299.7L798.3 299.0M799.9 300.2L801.3 300.5L802.6 300.6M828.6 306.8L829.5 307.3L830.4 307.6L831.4 307.6M794.7 300.4L795.0 299.8L795.2 299.2L795.4 298.6M809.4 303.8L810.1 302.4L810.3 300.9M823.8 312.8L823.8 311.9L824.1 311.2L824.4 310.3L824.3 309.5M824.6 310.3L825.6 311.4L827.0 311.9L828.5 311.9L829.9 311.5" fill="none" stroke="#000" stroke-width="1.1" stroke-linecap="round" stroke-linejoin="round"/>
<path d="M751.0 330.7 752.7 329.9 751.1 332.2 750.4 332.9 748.7 335.4 748.2 333.8 748.9 331.1 750.5 330.3ZM762.5 334.9 762.7 336.6 761.8 340.0 760.8 338.4 761.2 335.7ZM771.1 337.2 767.0 337.9 764.6 338.2 761.4 337.3 763.9 335.7 768.4 335.4ZM735.6 323.0 734.8 325.8 734.2 326.9 733.4 327.6 733.2 326.6 733.9 324.9ZM743.4 330.9 744.1 331.9 744.7 333.8 743.3 336.4 742.0 337.5 740.4 338.4 741.6 334.7 741.0 332.8 742.3 330.9ZM768.7 337.6 766.4 339.6 765.1 340.8 762.3 341.6 764.2 339.4 766.7 337.0ZM770.9 329.9 770.7 332.5 770.6 334.9 769.0 336.4 767.8 336.1 767.8 333.8 769.2 331.5ZM760.4 327.1 759.0 329.2 756.8 332.5 753.9 332.3 755.4 329.4 758.0 328.0ZM741.0 325.6 740.2 325.9 739.2 325.9 738.7 325.5 737.7 324.8 739.2 324.5 740.3 325.1ZM742.8 328.1 741.1 330.8 740.4 333.2 737.8 334.3 737.9 332.5 737.9 330.8 740.1 330.0ZM765.7 325.2 766.3 326.0 765.7 328.3 764.9 327.6 764.7 325.6ZM770.2 330.2 770.7 330.7 769.6 331.7 767.9 331.6 766.3 331.6 767.2 330.7 767.8 330.2 768.8 330.1 769.8 329.9Z" fill="#868686" stroke="#000" stroke-width="1.15" stroke-linejoin="round"/>
<path d="M754.4 336.2L755.7 334.3L756.6 332.2M760.7 338.7L761.0 338.1L761.7 337.8L762.1 337.3L762.0 336.7M758.5 326.6L759.4 326.7L760.0 326.0L760.7 325.5L761.5 325.2M752.5 333.8L754.3 335.5L756.7 335.3M742.0 332.8L740.7 330.8L741.3 328.5M763.7 330.4L765.1 329.4L766.5 328.4M761.2 329.2L762.0 328.4L763.1 327.9L762.7 326.8L762.2 325.8M767.8 323.5L769.5 322.9L771.2 322.6M733.6 326.9L735.1 326.7L736.5 326.8L738.0 326.9L739.3 326.1M756.8 333.4L757.4 332.1L758.4 331.0L758.5 329.6M731.4 323.8L732.4 322.2L734.3 321.8M756.6 335.7L757.0 334.8L756.7 333.9L757.0 333.0L757.4 332.2M733.4 328.8L733.5 327.9L733.9 327.0L734.3 326.2L733.7 325.4M768.0 332.4L768.3 331.8L768.9 331.5L769.5 331.2L769.8 330.7M764.5 323.3L765.3 323.4L766.1 323.7L766.6 323.1L767.4 322.7" fill="none" stroke="#000" stroke-width="1.1" stroke-linecap="round" stroke-linejoin="round"/>
<path d="M738.0 340.7 735.2 342.0 733.3 341.5 732.8 340.7 734.8 340.4ZM771.0 345.3 769.3 347.0 767.8 348.4 765.1 349.5 762.4 349.6 765.3 347.4 764.9 346.7 766.5 346.3 768.5 345.3ZM764.1 344.6 764.5 344.8 764.4 345.9 764.9 347.3 764.2 347.5 763.6 348.4 763.3 347.0 763.7 345.9 763.7 345.0ZM736.3 337.0 734.8 339.3 733.9 340.5 732.5 341.7 732.0 341.1 732.0 340.3 732.2 338.7 734.3 337.7ZM732.5 336.2 733.6 337.9 734.4 341.6 732.8 345.5 731.8 341.6 730.5 340.9 730.9 337.0ZM767.4 344.0 766.7 345.8 763.9 346.6 761.2 347.9 762.6 346.1 763.5 345.4 765.8 343.2ZM743.2 339.7 742.0 340.2 741.3 340.8 739.7 340.8 738.2 340.4 738.4 339.7 739.8 339.3 741.2 338.7 742.7 339.1ZM732.7 343.8 733.1 344.2 733.3 346.4 731.6 347.6 731.1 346.4 731.2 345.0 732.1 343.1ZM730.2 331.9 729.5 334.5 727.1 336.4 724.6 338.8 722.7 338.2 725.1 334.9 727.1 334.3ZM761.9 346.2 762.3 346.7 761.2 347.6 760.5 348.2 760.8 347.3 761.2 346.4Z" fill="#868686" stroke="#000" stroke-width="1.15" stroke-linejoin="round"/>
<path d="M747.1 343.4L747.9 343.8L748.5 343.1L749.4 343.2M739.7 344.0L740.5 343.4L740.6 342.5L740.4 341.6L740.3 340.7M732.1 345.6L731.7 343.9L732.4 342.3L733.5 340.9M754.2 344.0L754.8 343.0L755.8 342.3L757.0 342.5L757.4 341.4M735.9 345.5L735.2 344.6L735.4 343.6M734.9 345.8L734.6 344.7L734.4 343.6L735.2 342.8L736.2 342.4M730.6 345.1L731.1 343.7L730.7 342.2L730.0 340.9M736.5 339.8L736.7 338.5L737.9 338.3L737.9 337.1M763.6 347.1L763.6 345.4L763.8 343.7L764.4 342.2M755.7 343.2L757.8 342.9L759.8 342.1M745.1 340.9L744.1 339.8L743.4 338.6L744.6 337.8L743.6 336.7M733.3 344.4L733.6 343.7L734.2 343.0L734.9 342.5L734.3 341.9M731.2 341.6L730.5 339.9L730.9 338.1" fill="none" stroke="#000" stroke-width="1.1" stroke-linecap="round" stroke-linejoin="round"/>
<path d="M748.4 361.1 745.2 360.9 744.1 362.0 741.7 361.0 740.5 359.6 743.4 359.7 744.5 359.9 746.8 359.9ZM739.6 353.2 739.7 354.2 739.0 355.7 737.4 357.9 737.3 356.1 737.7 354.8 738.7 353.4ZM744.1 356.0 744.7 356.6 743.6 357.5 742.5 358.3 743.3 356.2ZM745.2 360.1 742.8 363.0 743.1 364.4 740.9 366.3 740.0 365.4 739.8 364.3 740.6 362.0 742.5 361.9ZM747.2 360.8 745.7 363.7 745.5 365.5 743.5 367.7 743.5 365.7 741.6 366.1 743.1 363.7 745.2 361.2ZM752.3 365.5 752.2 366.2 753.0 367.3 751.3 368.7 750.1 369.3 749.5 368.9 749.1 367.8 750.8 366.3 751.6 365.7ZM747.3 366.4 745.5 367.4 740.8 367.5 742.2 365.6 745.6 365.2ZM743.7 354.0 742.5 355.4 740.8 356.1 739.4 356.3 738.4 355.8 739.9 354.5 741.3 354.7ZM736.2 355.7 736.4 355.9 735.8 357.0 735.2 356.9 735.0 356.3 735.9 354.8ZM734.6 351.8 733.2 354.0 732.8 355.2 731.2 357.0 730.1 356.6 730.6 355.2 731.8 354.2 732.7 352.8Z" fill="#868686" stroke="#000" stroke-width="1.15" stroke-linejoin="round"/>
<path d="M733.4 357.5L734.5 356.2L736.2 356.5L737.1 355.0M725.8 353.2L726.6 353.0L727.3 353.1L728.1 353.1M738.9 358.6L739.9 357.9L740.7 357.1L741.9 356.8M734.5 357.1L735.5 356.4L735.4 355.2M730.8 358.5L731.7 358.4L732.3 357.7L733.2 358.0M737.4 361.2L738.6 360.8L740.0 360.8L741.2 361.2L742.3 360.4M732.3 355.5L732.6 354.2L733.8 353.5L734.6 352.5L734.7 351.1M731.9 356.9L732.1 355.6L732.1 354.2L733.1 353.2M736.0 358.7L737.4 358.8L738.2 357.5L739.2 356.5M746.9 362.9L747.8 362.5L748.8 362.4M734.3 354.7L735.0 354.2L735.5 354.7L736.3 354.8L737.1 354.6M730.4 352.7L731.4 353.5L732.3 352.6M745.8 363.1L745.5 361.7L746.9 361.2" fill="none" stroke="#000" stroke-width="1.1" stroke-linecap="round" stroke-linejoin="round"/>
<path d="M779.1 319.2 780.3 321.0 779.0 323.8 777.0 325.6 777.3 320.6ZM778.2 320.5 777.9 320.9 777.4 321.5 776.6 321.4 775.8 321.4 776.6 320.8 776.9 320.1 777.8 320.3ZM784.2 334.0 784.3 335.3 783.5 336.9 782.5 336.9 783.0 334.5ZM791.8 329.4 792.5 332.0 792.0 335.7 791.0 333.6 790.6 331.8ZM798.5 333.6 798.6 334.5 796.9 335.6 795.5 335.8 796.3 334.5 797.5 333.8ZM773.2 322.8 773.7 323.6 773.2 325.1 772.2 326.9 772.3 324.8 772.2 322.8ZM789.4 338.7 789.7 339.7 787.2 340.5 786.0 339.8 788.6 338.2ZM783.1 335.1 783.4 335.5 783.3 336.1 783.2 336.7 782.9 336.8 782.6 336.7 782.4 336.0 782.8 335.3ZM779.9 332.3 780.6 332.7 780.8 335.3 779.7 336.6 778.9 334.9 779.1 332.7ZM779.8 320.9 780.3 320.5 779.9 321.8 779.9 322.3 779.6 323.8 778.9 323.9 779.1 322.4 779.0 321.4 779.5 321.2ZM780.9 337.9 781.3 338.8 779.5 339.9 778.1 340.2 777.1 339.0 780.0 337.7ZM795.2 331.7 794.8 333.8 795.5 334.6 794.4 335.2 793.7 336.3 793.8 335.0 793.2 334.0 794.2 332.2Z" fill="#868686" stroke="#000" stroke-width="1.15" stroke-linejoin="round"/>
<path d="M787.7 327.7L786.6 325.8L787.1 323.7M782.7 323.5L783.9 323.8L785.0 323.6L786.0 324.2L787.2 324.0M777.5 329.1L778.5 328.1L779.8 328.7L781.2 328.2L782.5 328.7M778.4 330.9L779.3 330.4L778.8 329.6L779.4 328.8L779.6 327.8M782.5 329.0L783.0 329.5L783.8 329.4L784.4 329.7L785.0 330.2M784.7 334.6L784.8 333.0L785.7 331.6M784.4 333.0L784.0 332.3L784.6 331.9L784.5 331.2L784.4 330.5M779.2 341.8L780.4 340.4L781.7 339.1L783.5 339.4M795.2 334.7L797.2 334.8L798.4 333.3L800.1 332.2M787.4 328.9L788.8 328.9L790.2 329.2L791.5 329.0L792.9 328.6M781.2 327.1L782.4 327.4L782.9 326.4L784.1 326.4L785.2 326.0M776.2 328.9L777.8 327.7L779.4 326.5M773.8 327.6L772.9 325.9L773.5 324.1L774.0 322.2M780.8 338.6L781.5 337.4L781.9 336.1L781.5 334.7M783.0 342.1L784.6 341.3L786.2 340.4L786.6 338.7" fill="none" stroke="#000" stroke-width="1.1" stroke-linecap="round" stroke-linejoin="round"/>
<path d="M790.2 303.5 790.2 303.8 789.3 303.8 788.6 304.0 787.8 303.7 786.7 303.2 787.9 302.6 789.4 303.1 790.2 303.1ZM828.4 292.7 827.9 295.1 826.5 296.7 824.9 297.0 826.5 294.1ZM790.5 312.9 790.5 314.0 788.3 315.0 787.2 315.1 785.0 315.7 786.1 314.4 787.4 313.3 789.4 312.5ZM820.7 293.3 821.2 294.9 818.8 297.4 817.9 299.2 817.3 298.4 815.5 299.7 815.4 298.1 817.3 296.2 818.8 294.2ZM824.7 309.1 825.5 310.7 825.9 313.2 824.5 314.1 824.0 314.6 822.8 315.2 822.7 312.7 823.9 311.8ZM804.4 311.5 805.0 312.8 801.8 313.1 800.3 312.9 796.9 312.9 799.0 311.5 801.3 310.7 804.1 310.4ZM825.3 292.9 825.3 293.3 825.5 293.9 824.8 294.2 824.2 294.6 824.3 293.9 824.3 293.1 825.2 292.0ZM814.9 310.5 815.8 311.2 815.2 313.9 814.0 314.6 813.4 313.4 814.0 311.1ZM828.0 292.0 826.9 293.4 825.0 294.7 822.7 295.1 821.3 294.8 820.7 294.0 821.2 292.6 823.9 292.4 825.4 292.2ZM809.4 312.6 810.0 311.9 809.8 313.1 809.5 313.5 809.4 314.7 809.1 314.0 808.9 313.7 809.1 313.1 809.1 312.3ZM808.8 307.9 809.7 310.4 809.7 315.2 807.2 315.2 807.4 310.0ZM795.5 304.3 794.1 304.7 794.0 305.6 793.1 304.9 791.6 305.1 791.7 304.5 792.9 304.3 793.7 303.6 795.3 303.7ZM812.6 298.4 812.5 300.3 809.9 301.2 808.3 301.9 808.4 300.6 810.6 298.6ZM796.3 305.6 795.9 306.5 795.0 307.2 794.0 308.0 793.2 307.9 793.2 307.4 792.6 306.7 794.3 305.8 795.5 305.4ZM792.7 306.0 793.3 306.7 792.6 308.4 792.4 310.0 791.8 309.2 790.8 310.5 790.8 309.2 791.6 308.2 791.9 307.1ZM804.2 310.9 804.3 311.7 802.8 312.4 801.2 313.8 798.4 314.5 800.1 312.5 801.4 311.7 802.2 311.0 803.7 310.4ZM826.4 309.5 825.4 311.1 823.9 312.7 823.7 311.7 824.8 310.7ZM802.2 298.4 799.2 299.3 795.9 299.1 796.1 297.6 799.8 296.7ZM828.0 292.4 829.0 292.7 827.8 295.1 827.0 297.8 825.2 299.2 825.6 296.4 825.9 295.4 826.0 294.3 827.0 292.2ZM822.6 309.6 822.1 310.4 822.0 310.8 821.4 311.6 820.4 312.1 820.5 311.3 820.6 310.7 821.4 310.2 821.9 309.9ZM787.9 303.6 788.7 303.8 788.4 305.7 787.9 307.5 787.1 307.8 786.7 306.7 786.6 305.3 787.1 303.6ZM795.1 306.8 793.1 308.0 790.6 307.9 786.8 308.9 786.5 307.3 789.3 306.6 790.5 306.0 794.6 305.2Z" fill="#868686" stroke="#000" stroke-width="1.15" stroke-linejoin="round"/>
<path d="M793.4 300.3L794.6 300.7L795.9 300.9L797.0 300.1L798.1 300.9M804.5 300.5L805.7 299.7L807.1 300.1L808.5 300.5L809.9 300.6M784.6 302.3L784.7 300.8L785.0 299.4L786.1 298.4L787.4 297.7M797.8 303.3L799.3 302.4L800.7 301.4M813.0 292.2L813.3 291.2L813.5 290.1L814.5 289.5L815.1 288.6M817.6 290.6L819.1 289.7L820.7 290.3L822.3 290.9M811.4 292.3L813.7 291.7L816.0 291.6M822.4 292.7L822.4 291.6L823.2 290.8L824.2 290.7M818.7 290.2L819.0 289.6L818.7 289.1L818.6 288.5L819.1 288.1M826.0 305.0L828.1 303.8L830.1 302.2M816.3 290.8L818.0 291.2L818.8 289.5L820.6 289.3M788.9 310.6L789.5 310.1L790.2 310.1L790.6 310.6M813.3 314.4L814.8 313.4L816.2 312.4L817.9 311.8M824.2 314.1L826.6 313.3L828.8 312.0M821.4 298.2L821.7 297.4L822.5 297.0L823.0 296.3L823.2 295.5M813.8 296.4L815.0 297.1L815.8 298.3L817.0 297.4L818.3 296.9M790.9 301.5L791.8 300.7L792.8 300.1L793.8 299.4L794.9 300.0M786.9 312.7L788.0 312.5L789.1 312.2L790.2 312.1L791.3 311.8M815.2 298.0L814.4 297.1L813.7 296.3M808.8 308.9L810.0 309.4L811.2 308.7L812.5 309.2M794.6 300.3L795.2 300.6L795.9 300.8L796.5 300.6L797.0 300.2M792.3 300.2L793.4 300.6L794.6 300.9M791.5 313.7L791.4 312.5L791.1 311.4L790.4 310.5L790.6 309.3M821.9 291.5L821.8 290.9L821.6 290.4L821.3 289.9L821.8 289.5M788.7 315.2L789.6 312.9L791.7 311.7M813.7 312.8L814.3 313.5L815.0 312.9L815.8 313.3M824.2 310.0L825.1 309.6L825.8 308.8L826.5 308.2M800.3 299.7L800.0 298.4L800.5 297.2L801.4 296.3" fill="none" stroke="#000" stroke-width="1.1" stroke-linecap="round" stroke-linejoin="round"/>
<path d="M740.0 361.1 738.1 361.9 736.0 361.2 735.1 359.9 738.8 359.3ZM745.0 352.0 745.3 354.2 745.7 355.9 744.6 356.6 744.1 358.0 743.6 356.9 743.8 355.6 743.9 353.5ZM739.8 349.5 738.6 350.3 735.5 350.0 733.8 348.4 736.2 347.8 739.1 348.2ZM757.3 364.6 758.2 365.4 757.8 367.7 757.1 369.8 756.3 369.2 755.3 369.5 756.2 367.3 756.5 366.4ZM724.4 349.0 725.0 351.5 724.9 353.3 724.2 353.8 723.9 352.9 724.0 351.8ZM729.3 356.2 729.7 356.8 728.4 357.8 726.9 358.9 726.9 357.9 727.8 357.0 728.7 355.8ZM743.1 352.8 743.1 353.4 741.7 353.7 740.2 353.1 739.2 352.3 740.9 352.1 742.0 351.5 742.8 352.4ZM759.6 364.5 759.8 365.0 758.9 365.9 757.2 368.3 757.4 366.5 757.5 365.9 757.8 364.7 759.4 363.5ZM732.9 349.8 733.4 350.4 731.8 351.2 730.8 351.5 728.8 352.3 728.6 351.1 730.8 349.6 732.0 349.9ZM766.3 371.1 767.0 374.3 766.8 377.3 765.4 380.0 764.1 377.5 764.7 373.6ZM751.3 372.1 749.9 373.6 746.7 373.0 744.9 372.0 745.4 370.2 750.8 370.1ZM733.3 356.3 732.2 357.2 729.7 357.2 729.1 356.3 727.1 355.2 729.8 354.8 731.4 355.6ZM733.0 359.2 732.1 360.7 728.6 359.7 726.8 358.4 728.9 357.6 733.2 357.2ZM751.0 371.9 751.7 372.8 751.5 374.9 750.9 376.5 750.1 376.7 749.4 376.4 749.6 374.6 749.9 372.3ZM756.4 367.2 754.1 368.9 750.6 369.1 750.8 367.7 753.6 366.7ZM735.8 353.5 737.8 354.4 735.2 354.8 733.5 354.7 731.9 354.4 733.5 353.6 732.6 352.5 735.0 352.0 735.5 353.2ZM732.5 349.5 733.0 350.2 733.2 353.9 730.6 356.1 731.2 351.6 731.6 349.3ZM746.2 354.4 747.4 354.9 745.2 356.6 744.2 357.2 744.1 356.5 744.5 355.7 745.6 353.2Z" fill="#868686" stroke="#000" stroke-width="1.15" stroke-linejoin="round"/>
<path d="M735.9 362.0L736.6 361.1L737.2 360.2L738.0 359.4L738.0 358.3M735.1 347.4L735.4 346.3L736.4 345.9M758.2 371.8L758.3 371.2L758.5 370.6L758.2 370.1L758.7 369.8M744.0 362.6L744.9 362.0L744.9 360.9M752.9 365.8L753.4 366.6L754.0 367.3L754.8 366.8M752.4 368.7L753.3 369.0L753.8 368.3L754.7 368.4L755.3 367.7M729.7 349.0L731.0 348.6L732.0 347.7L732.7 346.5M749.7 359.8L749.1 358.6L748.7 357.4L748.6 356.1L749.1 354.9M742.3 365.9L742.8 365.6L743.0 365.1L742.8 364.5L743.0 364.0M722.9 354.7L724.1 355.0L725.2 354.4M758.9 365.4L759.8 365.0L760.3 364.2L760.6 363.3M726.2 353.2L726.7 353.9L727.1 354.6L727.7 355.1M738.6 352.7L738.7 350.9L738.2 349.2L739.4 348.0M755.6 376.0L756.3 374.8L756.9 373.5L757.4 372.3L758.4 371.3M736.5 351.3L738.5 349.6L738.0 347.0M756.3 365.5L758.1 364.8L759.9 364.3L761.3 365.7M755.9 371.0L757.3 371.0L758.7 371.4L760.1 371.2L761.5 371.1M745.7 356.4L747.2 357.3L748.5 358.3M755.4 367.9L755.9 368.1L756.4 368.4L756.9 368.1L757.3 367.9M755.6 373.3L756.6 371.9L758.0 371.0M731.1 347.4L732.6 345.4L733.3 343.0M735.0 361.1L735.7 360.2L736.8 359.9L737.8 359.3L738.1 358.2M761.5 364.4L760.8 363.6L760.7 362.5L760.0 361.7L760.8 361.0" fill="none" stroke="#000" stroke-width="1.1" stroke-linecap="round" stroke-linejoin="round"/>
<path d="M851.6 246.2 850.9 247.7 849.8 248.1 848.8 248.0 849.8 246.2ZM854.1 233.0 855.1 234.0 853.1 236.4 852.3 234.8 853.0 233.2ZM842.3 257.4 843.5 256.8 842.9 258.1 842.2 258.8 841.4 259.9 840.6 259.6 841.4 258.1 841.7 257.7 842.1 256.4ZM856.2 218.1 855.9 218.5 855.3 219.1 854.6 218.7 855.7 217.6ZM858.5 243.7 858.4 244.4 857.4 244.2 856.8 244.0 856.5 243.1 858.3 242.8ZM851.7 213.8 850.3 215.0 849.1 215.5 847.7 215.4 848.7 214.4 850.1 213.4ZM858.2 222.9 858.1 224.0 856.7 224.7 855.5 225.9 854.2 225.6 855.7 224.2 855.5 222.9 856.9 223.0ZM843.0 258.8 842.7 260.0 842.3 260.8 841.7 260.8 841.3 260.3 842.0 259.4ZM846.5 263.9 845.4 265.0 844.4 265.3 843.3 265.9 843.4 265.1 843.4 264.7 844.0 264.4 845.2 263.6ZM859.0 235.7 859.3 236.6 858.4 237.8 857.4 238.1 856.5 238.0 857.1 236.7 858.0 236.5ZM855.4 239.9 854.9 241.4 853.7 242.1 852.8 243.2 851.6 243.1 852.8 241.7 852.6 240.7 854.0 240.1ZM839.7 261.3 839.8 262.1 839.7 263.8 838.2 264.5 838.1 262.7 838.8 260.9ZM848.5 211.2 848.1 212.5 847.0 213.3 845.9 213.7 845.0 213.2 845.5 211.8 847.1 211.6ZM843.5 268.9 843.7 269.4 843.1 270.5 842.3 270.2 842.3 269.7 842.4 269.2 843.2 268.4ZM857.3 216.2 857.0 218.0 856.3 220.0 856.0 218.5 855.9 217.3ZM849.7 256.1 849.8 256.3 849.7 256.7 849.4 256.8 848.7 257.3 848.8 256.4 849.4 256.1Z" fill="#0f6924" stroke="#000" stroke-width="1.15" stroke-linejoin="round"/>
<path d="M774.1 216.3 772.9 215.1 772.4 213.9 772.7 213.3 773.3 213.6 774.5 214.8ZM778.5 226.1 779.1 225.3 780.2 224.9 780.7 225.3 780.6 225.9 779.3 226.5ZM778.5 224.6 777.3 222.9 777.6 221.1 778.4 220.9 779.5 222.8Z" fill="#0f6924" stroke="#000" stroke-width="1.15" stroke-linejoin="round"/>
<path d="M718.3 365.2 723.7 364.6 729.2 364.1 731.4 366.8 735.7 371.2 740.1 375.5 744.5 378.8 751.0 379.4 747.7 381.5 741.2 381.0 736.8 379.9 731.4 376.6 725.9 372.3 721.5 368.5Z" fill="url(#plume2)"/>
<path d="M746.4 380.1L747.0 381.1L748.2 381.2M724.5 370.7L724.4 371.7L724.3 372.7L724.8 373.6M728.6 370.7L729.5 371.5L730.3 372.3L730.8 373.4L731.8 374.0M737.0 379.9L738.7 379.9L739.2 381.5M732.7 376.8L733.8 376.7L734.6 376.1L735.3 376.9L736.4 376.7M734.9 372.8L735.3 373.8L735.8 374.8L736.7 375.4L737.0 376.4M733.5 372.3L733.5 373.7L734.1 374.9L733.8 376.3M739.4 377.3L740.7 378.1L742.1 378.4L742.1 379.9M733.8 377.8L736.0 376.9L737.0 379.0M725.2 371.4L726.0 372.6L727.5 372.7" fill="none" stroke="#000" stroke-width="1.1" stroke-linecap="round" stroke-linejoin="round"/>
<ellipse cx="701.2" cy="390.8" rx="2.0" ry="3.2" fill="#f5c640"/><path d="M687 392H699" stroke="#000" stroke-width="0.9"/><ellipse cx="602.5" cy="245.6" rx="2.6" ry="1.1" fill="#f08a40"/><ellipse cx="586.3" cy="290.3" rx="2.2" ry="1.4" fill="#f08a40"/>
<path d="M721.6 351.3 731.5 354.5 741.3 362.7 751.1 369.3 760.9 372.5 769.1 370.9 769.1 379.1 760.9 380.7 754.4 379.1 744.5 379.1 736.4 375.8 728.2 370.9 721.6 366.0Z" fill="#0f6924" stroke="#000" stroke-width="1.15" stroke-linejoin="round"/>
<path d="M744.5 378.1 743.3 376.4 742.5 374.8 742.3 371.8 744.5 373.1 745.7 376.9ZM745.4 379.8 744.5 379.8 743.7 379.1 742.4 378.5 743.0 378.1 743.1 377.4 744.5 378.0 744.5 378.9ZM741.1 367.6 740.7 368.3 739.2 367.7 738.9 367.2 739.2 366.6 741.0 366.9ZM732.0 356.8 730.8 357.5 729.2 357.4 728.9 356.8 729.5 356.5 730.8 356.2ZM755.1 373.6 754.4 374.3 752.7 374.2 751.5 373.7 752.6 373.3 753.0 373.2 753.9 373.1ZM751.8 374.9 750.2 375.8 749.2 376.1 748.8 375.8 748.6 375.2 750.3 374.5ZM763.5 379.0 761.2 379.1 758.5 377.0 759.8 376.2 762.1 377.1ZM729.6 355.9 729.1 356.8 726.5 356.7 726.5 355.4 728.9 355.1Z" fill="#868686" stroke="#000" stroke-width="1.15" stroke-linejoin="round"/>
<path d="M724.4 363.7L726.3 365.3L728.8 364.6M758.3 375.9L758.8 377.0L760.1 377.2L760.8 378.2M745.5 378.5L746.8 378.8L747.3 380.1M742.8 371.5L744.7 371.9L746.5 371.4M729.6 371.0L731.9 370.8L734.1 371.5M754.9 370.8L755.8 370.8L756.6 371.3L757.3 370.8L758.0 370.2M740.7 371.6L741.8 371.0L743.1 370.7M734.1 369.8L735.6 369.3L737.0 370.2L738.5 370.6M766.0 375.3L766.8 375.5L767.4 376.1L768.2 375.8M755.8 374.5L756.4 375.0L757.0 375.4L756.8 376.1M727.9 367.3L729.1 368.2L730.5 368.1M726.0 357.8L728.4 359.1L730.5 360.8M758.9 376.8L759.5 378.1L759.9 379.5L761.0 380.5L762.4 381.0M731.3 372.7L732.2 372.6L732.8 372.0L733.5 371.5L734.3 371.3M758.2 372.0L758.5 374.0L758.1 376.0M747.4 367.3L749.5 368.9L752.1 369.1M736.2 361.9L736.1 364.3L735.4 366.7M742.1 372.9L743.7 372.3L745.0 371.0M759.4 373.0L759.8 374.1L760.9 373.7L762.1 373.4M737.7 363.6L738.5 365.0L737.4 366.2M730.3 355.9L733.1 355.2L735.3 357.1M740.5 368.8L741.1 368.4L741.7 368.8L742.3 369.1M727.0 360.7L727.4 360.3L727.7 359.9L728.2 359.9L728.7 359.9M762.2 378.1L763.1 378.7L763.9 378.0L765.0 378.1L766.1 378.1M732.5 361.0L734.0 360.8L735.4 361.5L736.9 361.6M751.3 374.2L752.5 374.9L751.9 376.2L751.2 377.5M757.6 373.3L758.1 375.1L759.3 376.5L760.9 377.3M726.1 354.0L727.0 354.1L727.5 354.9L728.4 354.8L729.4 354.8M735.4 367.2L736.6 367.4L737.8 367.4L738.8 366.9M755.6 376.1L757.1 376.0L758.6 375.9L759.6 377.0L761.1 376.9" fill="none" stroke="#000" stroke-width="1.1" stroke-linecap="round" stroke-linejoin="round"/>
<path d="M718.3 365.2 723.7 364.6 729.2 364.1 731.4 366.8 735.7 371.2 740.1 375.5 744.5 378.8 751.0 379.4 747.7 381.5 741.2 381.0 736.8 379.9 731.4 376.6 725.9 372.3 721.5 368.5Z" fill="url(#plume2)" opacity="0.85"/>
<path d="M730.1 371.1L731.1 371.2L732.1 371.0L733.0 370.7L733.8 370.2M736.1 378.1L736.7 379.0L737.8 379.3M734.1 374.9L734.7 374.5L735.2 375.0L735.8 375.4L736.3 375.9M734.4 373.7L735.3 373.0L736.3 373.3M737.6 376.1L738.9 376.2L739.3 377.3M735.7 379.1L737.2 379.6L738.5 378.8L740.1 378.7M721.1 367.7L721.3 368.9L722.4 369.5L723.5 370.1M727.6 369.5L727.7 370.8L727.2 372.0L728.2 372.8M725.6 367.9L726.0 368.6L726.2 369.3L726.2 370.1L726.0 370.8M731.4 366.9L733.0 366.8L733.7 368.2L735.2 368.9M737.0 379.8L738.5 380.1L740.0 380.1M738.0 375.0L739.3 375.5L740.4 374.5L741.4 375.6" fill="none" stroke="#000" stroke-width="1.1" stroke-linecap="round" stroke-linejoin="round"/>
<path d="M743.6 363.5 742.9 363.0 741.8 362.2 741.4 360.1 742.6 360.2 743.3 360.3 745.1 361.2 744.4 363.3ZM731.0 352.9 729.9 352.4 728.9 352.3 728.4 351.2 729.0 351.0 728.9 349.6 730.5 350.7 730.8 351.9ZM767.0 367.7 766.1 368.9 763.9 370.1 763.2 368.8 762.6 368.2 764.0 367.7 766.0 366.7ZM769.5 350.9 769.1 351.7 766.3 351.0 767.8 350.1 769.1 350.2ZM737.6 350.4 737.9 352.5 733.7 354.1 733.3 352.3 733.5 351.1 735.4 350.8ZM739.2 350.6 738.0 349.8 735.5 348.2 736.6 346.6 738.5 345.8 739.8 349.4ZM737.5 350.6 736.5 349.6 736.0 347.7 736.0 345.4 737.2 345.8 738.3 345.1 739.1 347.5 738.7 349.9ZM738.1 346.9 734.3 348.3 731.6 347.5 728.3 346.6 730.0 344.4 734.2 345.4ZM748.5 350.6 747.9 352.1 744.5 353.1 743.9 351.1 743.0 350.1 745.3 350.1 747.0 349.7ZM741.3 371.5 740.5 372.2 739.5 370.6 739.4 369.2 741.3 370.7ZM752.9 373.3 749.1 375.0 745.3 375.8 744.4 373.4 749.1 372.2ZM753.2 371.0 750.8 369.2 748.2 364.9 751.2 365.5 753.3 368.1ZM738.2 369.8 737.6 369.2 737.3 368.6 736.6 367.6 736.3 365.6 737.6 366.9 738.3 367.0 739.2 368.3 738.6 369.3ZM731.5 364.5 730.2 364.6 728.7 364.0 726.3 362.0 728.7 361.2 732.8 362.9ZM765.9 362.0 764.9 361.6 764.1 359.6 765.2 359.1 766.1 360.9ZM763.3 347.0 761.3 349.1 758.3 349.7 759.1 348.2 760.3 347.2ZM769.6 362.4 767.7 362.6 766.4 360.1 767.2 359.0 768.9 360.7ZM746.6 365.7 744.2 366.6 741.9 367.3 741.5 365.9 740.0 364.9 742.2 364.3 744.9 364.3ZM754.2 363.0 753.5 363.7 752.3 364.6 750.5 364.3 749.7 363.3 751.9 362.4 753.7 362.2ZM764.6 360.0 763.7 356.5 762.2 354.9 763.1 352.2 764.5 352.7 766.4 351.0 766.5 354.8 766.2 358.1ZM749.3 349.9 748.2 349.6 748.0 347.7 748.4 347.0 748.8 346.0 749.3 347.4 750.0 349.0ZM748.0 363.1 746.7 362.5 746.0 360.4 745.4 357.4 746.6 355.6 748.4 357.0 749.0 359.8 749.2 362.5ZM747.2 357.4 745.7 354.0 744.3 350.8 746.1 349.6 747.5 347.6 748.9 350.6 749.2 355.0ZM764.2 377.0 764.0 378.2 761.4 379.1 758.3 377.8 759.8 376.4 759.6 375.2 761.9 375.7 762.9 376.3ZM766.1 365.1 766.5 366.9 764.2 365.2 761.4 364.6 762.2 363.2 761.2 361.1 764.0 362.5 765.4 363.3 766.8 364.5ZM740.7 346.5 739.2 346.8 739.5 344.1 740.6 344.2 741.7 345.9ZM745.0 361.0 744.6 361.9 743.8 360.5 742.7 359.3 743.0 358.4 744.2 359.5 745.2 359.5 744.7 360.3ZM756.8 375.4 756.2 376.2 755.2 374.6 754.5 373.3 755.1 372.8 755.7 371.6 757.1 373.4 758.3 375.5ZM752.6 370.4 751.8 367.7 750.6 367.3 750.5 365.2 751.7 365.3 752.2 364.5 753.6 364.3 754.6 367.1 753.0 368.2ZM737.9 362.3 736.1 361.8 735.1 361.0 733.4 360.1 733.0 358.6 734.9 359.3 736.3 359.4 738.2 361.0ZM731.4 351.7 729.2 351.2 727.4 350.7 726.6 349.1 727.9 349.1 728.9 348.2 729.5 349.9ZM728.4 360.4 727.1 361.4 726.5 362.0 725.5 362.1 725.2 361.7 724.5 361.1 725.9 360.4 727.7 359.7ZM742.4 348.5 741.3 347.9 741.8 346.5 742.3 346.2 742.4 347.2ZM744.6 378.4 741.6 377.1 741.5 374.4 741.9 372.6 743.9 375.1ZM752.6 348.0 752.6 349.2 751.1 348.2 750.2 347.0 750.1 346.0 751.5 346.7 752.6 346.3 753.3 347.7ZM761.8 376.2 759.8 376.5 758.2 377.5 755.7 376.3 754.7 374.7 757.5 374.6 758.9 374.1 760.4 375.1ZM737.4 373.4 737.3 374.6 736.1 373.2 734.5 372.2 734.4 370.8 735.3 370.4 736.5 371.2 738.0 371.8 738.3 373.2ZM750.3 351.0 750.0 351.5 749.0 351.2 749.2 350.0 748.4 348.4 749.1 348.0 750.2 348.6 750.6 350.1 751.8 351.8Z" fill="#0f6924" stroke="#000" stroke-width="1.15" stroke-linejoin="round"/>
<path d="M737.4 335.6 735.3 334.6 733.6 332.5 733.8 330.7 732.2 327.8 733.6 327.1 735.1 330.0 736.5 330.8 738.0 333.5ZM771.9 327.7 768.0 326.2 766.5 326.1 764.7 324.6 764.1 322.3 767.6 324.3 770.9 325.1ZM744.6 346.8 744.2 346.9 743.5 345.8 744.1 344.8 744.6 345.6 745.5 345.6 745.5 347.3ZM748.9 358.0 747.1 359.6 743.4 356.0 746.0 355.4 747.8 356.5ZM767.5 360.1 767.3 361.7 764.5 363.2 762.6 362.0 759.8 361.7 760.5 359.9 763.8 359.6 766.4 359.0ZM758.1 363.4 756.7 362.8 755.4 362.5 755.2 361.3 755.9 361.2 756.8 360.8 757.0 362.1ZM764.9 328.0 764.8 328.4 763.7 328.6 763.2 327.9 762.8 327.2 764.2 327.5 764.7 327.7ZM735.1 321.8 734.8 321.9 734.0 321.5 733.4 320.1 734.2 320.0 734.8 320.0 735.1 321.0 735.6 321.7ZM761.0 361.2 757.9 359.5 756.0 358.7 756.0 357.3 757.5 357.6 759.5 358.5ZM747.1 329.8 745.3 330.4 744.0 326.6 745.3 324.7 746.6 324.0 748.4 325.7 747.6 328.3ZM741.4 324.5 739.1 323.9 738.0 322.8 735.1 320.2 738.1 319.9 742.0 322.4ZM745.7 354.0 742.0 353.0 740.5 350.4 741.0 348.8 743.5 350.7ZM747.1 345.2 745.5 346.2 745.7 342.4 744.0 339.7 745.4 338.4 746.7 337.2 747.7 340.3 749.4 342.5 747.2 342.9ZM766.0 361.4 763.7 361.2 760.1 361.7 759.4 359.1 762.0 358.2 765.7 359.5ZM771.7 333.6 770.5 334.3 769.2 334.2 768.5 334.0 767.0 333.6 767.6 332.8 769.2 332.6 771.6 332.4ZM746.8 336.5 746.7 337.4 745.2 336.5 744.3 336.0 742.8 335.1 743.6 334.6 745.0 335.3 745.8 335.1 746.6 335.8ZM758.3 359.3 756.1 360.6 753.7 361.5 754.0 360.0 755.8 359.0ZM752.5 318.9 752.0 321.1 747.4 321.5 748.3 319.4 750.4 318.8ZM752.1 351.8 752.4 352.5 751.0 352.3 749.8 352.3 749.9 351.7 749.5 350.9 751.1 351.3 752.0 351.3ZM768.2 366.6 767.3 365.3 766.8 365.0 766.5 364.1 766.8 363.7 767.3 363.9 768.3 364.3 768.4 365.6ZM745.7 350.3 745.0 350.7 743.9 350.4 743.3 350.1 742.4 349.5 743.4 349.4 744.2 349.1 744.8 349.7ZM760.2 349.1 759.1 351.5 757.8 348.1 757.0 344.9 758.3 343.7 760.1 344.0 761.6 346.8 762.0 349.8ZM750.4 342.3 748.7 341.0 746.4 339.8 747.6 338.8 748.8 338.5 749.4 340.3ZM740.4 355.7 738.8 354.8 737.1 353.2 737.6 351.4 737.7 349.9 738.9 351.0 740.7 351.5 741.6 354.5Z" fill="#0f6924" stroke="#000" stroke-width="1.15" stroke-linejoin="round"/>
<path d="M787.5 319.5 785.2 319.8 782.5 320.1 783.1 318.7 783.1 317.1 785.4 318.4ZM777.6 326.4 776.1 325.8 775.1 325.8 774.1 324.7 774.3 324.0 775.3 324.2 776.4 324.0 777.6 325.3ZM785.4 325.1 782.5 325.4 780.6 323.4 780.6 321.9 784.3 322.3ZM777.5 328.7 777.2 328.9 776.4 328.8 775.8 327.8 775.9 327.1 776.0 326.5 776.9 326.4 777.9 327.5 777.9 328.5ZM790.8 331.2 789.7 331.2 788.7 331.6 787.6 330.8 788.9 330.6 789.2 329.9 790.0 330.6ZM789.8 340.6 788.9 341.5 787.0 340.3 786.4 338.6 789.1 339.8ZM795.1 319.6 794.6 320.4 792.6 320.2 792.3 319.2 793.2 318.8 794.2 319.2ZM785.7 328.1 783.7 327.1 782.7 325.8 782.9 324.3 784.6 326.1ZM778.9 334.4 778.2 333.9 778.0 332.7 778.4 332.2 778.5 330.6 778.9 332.2 779.6 332.6 779.4 333.8ZM783.8 337.0 782.4 337.9 779.3 336.1 780.7 334.9 783.0 335.8Z" fill="#0f6924" stroke="#000" stroke-width="1.15" stroke-linejoin="round"/>
<path d="M634.4 434.6 632.6 435.3 632.8 431.8 634.3 431.0 636.3 431.2 636.4 435.3ZM641.9 389.9 640.0 389.4 642.1 387.1 643.7 387.2 643.5 390.5ZM633.3 387.8 632.2 387.3 632.6 385.3 632.9 382.1 634.1 384.1 634.2 385.6 634.7 387.9ZM637.8 400.5 637.4 399.7 638.7 399.8 641.3 399.1 639.6 400.4 639.6 401.9 637.1 401.8ZM638.3 387.5 636.8 387.1 638.6 385.7 640.3 383.9 641.1 385.0 642.2 385.9 640.0 387.3 639.0 387.4ZM629.8 440.8 630.6 439.4 633.3 438.5 632.5 440.2 631.4 440.6ZM634.8 403.3 634.7 403.9 633.6 403.9 632.9 402.9 632.5 401.9 633.9 402.3 634.6 402.4 635.6 403.1ZM637.0 393.6 636.6 393.0 636.9 391.3 639.0 390.2 640.9 390.3 639.1 392.5 638.6 393.3 637.7 393.6ZM638.9 430.4 637.7 431.0 638.7 429.2 638.7 428.1 639.3 428.3 640.3 427.0 640.5 428.4 639.7 429.4 639.5 430.6ZM638.6 389.3 638.0 389.3 637.5 388.6 636.4 387.4 637.6 387.5 637.9 387.5 638.5 386.8 638.8 388.0 639.0 388.9ZM638.2 406.5 637.6 407.4 635.6 406.0 636.5 405.0 638.8 405.5ZM643.6 400.3 642.3 400.7 640.7 399.1 640.0 397.8 640.5 397.1 640.9 395.8 642.9 396.9 644.2 399.0ZM627.1 421.1 629.4 419.4 631.2 418.9 633.6 417.9 634.1 419.2 634.0 420.6 632.0 422.0 628.9 422.5ZM640.2 393.5 638.2 393.4 638.2 389.8 639.9 390.8 640.7 392.2Z" fill="#868686" stroke="#000" stroke-width="1.15" stroke-linejoin="round"/>
<path d="M634.4 418.7L634.6 420.5L635.6 422.2M642.3 428.0L644.8 426.7L647.5 426.8M638.0 422.6L638.7 423.4L639.6 423.9M641.0 416.4L643.0 416.5L644.6 417.6L646.6 417.8M640.0 393.4L640.9 393.7L641.8 393.9L642.7 394.1L643.6 394.3M634.2 407.9L633.0 407.8L632.8 409.0L632.2 410.0M630.6 434.0L630.5 434.7L630.6 435.4L629.9 435.5L629.3 435.9M631.6 439.3L630.3 439.3L629.2 439.9L628.1 440.7L626.8 441.0M638.7 416.9L640.1 416.0L641.1 417.2L642.4 416.2M631.4 402.0L630.6 403.2L629.9 404.5L629.4 405.9M638.9 387.3L638.8 388.4L638.9 389.4L638.7 390.5L638.3 391.5M636.7 433.8L636.3 435.6L635.6 437.3M640.3 411.5L639.0 412.5L637.4 412.5M640.0 417.5L639.0 418.2L638.0 418.9L637.6 420.1L637.3 421.3M631.1 443.6L632.5 444.0L633.9 444.6L635.4 444.4M633.4 421.9L632.1 422.4L631.3 423.7L629.9 423.3L629.3 424.6M632.2 398.6L631.5 399.3L631.6 400.2L631.4 401.2L631.9 402.0M634.8 389.2L633.1 391.3L630.9 392.8M631.6 401.8L629.5 402.9L628.4 405.0M641.4 423.3L642.2 424.7L642.9 426.1M635.1 391.7L635.9 392.4L636.5 393.3L636.3 394.3L636.7 395.3M637.7 411.7L637.3 412.0L636.8 412.4L636.2 412.4L635.7 412.8" fill="none" stroke="#000" stroke-width="1.1" stroke-linecap="round" stroke-linejoin="round"/>
<path d="M677.8 381.6 677.7 382.0 676.9 382.9 675.9 382.1 674.5 381.4 676.2 381.1 677.0 381.2 678.5 380.8ZM656.8 381.5 657.1 380.5 658.6 380.7 659.5 380.8 659.5 381.9 658.0 381.6ZM661.5 383.0 660.3 382.4 659.5 380.8 659.5 379.4 659.9 378.7 660.3 377.0 661.5 378.2 661.5 380.0 661.2 380.7ZM670.6 388.7 671.7 388.0 672.3 387.4 673.9 386.8 675.4 387.4 673.9 388.5 672.8 389.3 671.0 389.7ZM656.9 394.0 655.3 391.7 653.6 390.0 654.4 388.0 656.4 389.0 657.2 391.6ZM696.5 393.1 696.0 392.6 696.8 391.6 697.8 391.0 697.6 392.2 697.2 393.5ZM682.4 388.5 681.4 388.5 680.0 387.8 679.5 386.0 679.9 385.0 680.5 384.6 681.3 385.9 682.2 386.2 683.1 387.8ZM665.9 388.5 665.6 388.6 665.1 389.1 664.5 388.6 664.4 388.2 664.5 387.8 665.3 388.1 666.6 387.9ZM689.5 390.1 688.9 389.2 688.4 387.5 689.3 385.6 690.1 387.2 690.6 388.0 690.3 389.3ZM670.2 390.9 670.7 390.2 671.8 390.3 672.8 390.6 671.9 391.1 670.6 391.8ZM658.1 392.1 658.2 390.8 658.6 389.6 659.8 389.3 660.7 388.6 661.9 388.5 661.0 390.0 660.1 390.6 659.1 392.6ZM658.7 390.7 660.1 388.9 661.7 388.8 662.2 389.4 660.9 391.0Z" fill="#868686" stroke="#000" stroke-width="1.15" stroke-linejoin="round"/>
<path d="M695.3 427.4 693.6 426.9 692.4 427.4 691.2 426.1 692.3 425.5 693.4 425.0 694.3 426.3ZM697.9 417.0 698.3 416.2 699.6 416.2 700.5 415.6 700.3 416.4 700.9 416.6 700.9 417.3 699.8 417.1 699.1 417.1ZM700.9 402.7 698.3 402.3 697.3 403.1 696.3 402.0 696.6 401.4 697.2 401.1 698.3 399.9 700.1 401.2ZM692.3 424.5 693.8 422.5 693.9 421.0 695.9 420.6 697.8 419.9 697.1 421.6 697.5 422.6 696.0 423.8 694.0 424.8ZM697.5 425.5 697.0 426.0 696.6 424.8 696.5 424.2 696.3 423.2 697.1 423.2 697.7 424.2 697.5 424.8ZM698.9 421.1 699.0 419.5 699.4 417.6 700.3 418.4 700.5 420.5ZM692.7 429.3 693.8 428.4 695.5 428.5 696.0 429.1 696.4 429.6 695.5 430.1 694.1 430.1ZM701.9 397.4 700.8 398.0 699.2 397.4 698.7 396.7 697.4 395.8 698.1 395.0 699.8 395.6 701.0 396.3ZM698.4 415.7 699.1 415.1 700.4 414.3 702.2 414.9 700.2 415.8 699.1 416.3ZM696.7 425.0 697.1 423.5 697.0 422.3 698.1 421.9 699.0 421.6 699.6 422.2 698.4 423.3 697.9 424.0Z" fill="#868686" stroke="#000" stroke-width="1.15" stroke-linejoin="round"/>
<path d="M662.9 414.2 662.4 414.7 661.4 415.8 660.4 414.7 658.1 414.2 658.8 412.7 661.4 413.0 664.7 412.4ZM669.5 435.1 667.3 434.2 666.1 435.0 664.3 433.5 663.6 431.8 664.7 431.2 666.2 431.0 667.1 432.8 668.9 433.5ZM684.6 425.5 686.2 423.6 688.3 424.1 688.2 424.9 686.9 426.6ZM677.1 422.3 677.9 420.4 679.1 419.4 681.0 417.8 680.1 419.9 680.9 420.9 679.2 421.0ZM666.0 427.9 665.9 425.5 668.6 425.3 671.3 425.4 668.2 427.5ZM663.2 430.2 664.1 429.5 664.7 428.2 666.8 428.3 668.5 428.9 668.1 430.1 667.3 431.3 665.1 432.3 663.4 431.2ZM658.2 417.2 654.8 417.4 652.5 416.5 652.8 415.0 656.5 414.2ZM650.3 413.3 649.5 413.0 649.0 413.0 647.2 412.3 648.5 411.9 648.8 411.4 650.1 411.4 650.2 412.6ZM649.1 411.1 648.0 409.4 647.7 408.4 647.9 407.1 648.8 408.0 649.0 409.1ZM683.1 424.4 683.4 426.5 679.9 425.4 678.3 423.8 680.4 422.8 682.6 423.3ZM662.0 420.9 662.1 420.3 663.1 419.5 663.9 420.1 664.9 420.3 665.1 421.2 663.6 421.8 661.3 422.4ZM675.2 421.5 674.6 424.3 673.1 421.9 673.7 420.1 673.9 419.3 674.3 418.8 675.5 418.3 675.6 420.4 675.5 421.1ZM657.2 411.7 657.6 409.8 659.6 409.7 660.2 410.2 659.1 411.3ZM653.6 416.1 653.1 416.4 651.9 415.9 652.6 414.3 653.3 414.0 654.1 412.5 655.0 413.7 654.2 415.5 654.4 416.9ZM673.7 401.4 672.8 401.8 672.3 400.4 673.0 398.8 673.7 397.6 674.3 398.9 675.2 399.1 675.5 400.8 674.3 401.3ZM669.3 401.3 668.5 401.9 667.6 400.5 666.3 399.3 666.9 398.5 667.8 398.1 669.2 399.1 670.3 400.8ZM654.2 431.8 653.2 430.4 653.9 428.8 654.5 427.6 654.9 428.9 654.9 430.0ZM653.1 399.4 652.6 399.0 652.7 397.4 654.1 396.4 654.2 397.8 654.2 398.5 653.8 400.3Z" fill="#0f6924" stroke="#000" stroke-width="1.15" stroke-linejoin="round"/>
<path d="M676.1 396.0 676.1 394.9 677.6 395.1 678.7 395.4 678.0 396.3 676.7 396.6ZM651.8 422.5 653.2 421.8 654.6 421.6 654.5 422.7 653.3 422.9ZM686.1 402.6 686.2 402.0 686.6 401.5 687.4 400.5 687.8 401.3 688.2 401.8 687.5 402.7 686.5 403.3ZM683.3 394.2 683.1 394.6 682.4 394.6 682.0 394.4 681.4 394.2 681.9 393.9 682.0 393.7 682.5 393.5 683.0 393.8ZM671.9 416.7 671.5 415.9 671.2 415.3 671.7 415.1 672.4 414.9 672.2 415.9ZM667.7 419.2 667.2 419.7 666.2 419.3 666.0 418.5 666.6 417.5 667.8 418.5ZM678.5 419.8 678.8 418.6 678.6 417.4 679.7 417.2 680.8 417.4 680.0 418.6 679.5 419.4ZM672.2 409.9 671.1 409.3 670.6 408.8 670.5 408.0 671.4 407.6 671.6 408.8ZM656.1 428.2 655.8 427.7 655.9 427.3 655.6 426.7 656.1 427.0 656.4 426.8 656.4 427.3 656.2 427.6ZM693.7 409.1 692.8 409.6 691.9 409.0 691.0 408.7 690.8 407.9 691.7 407.9 692.3 407.9 692.5 408.4Z" fill="#0f6924" stroke="#000" stroke-width="1.15" stroke-linejoin="round"/>
<path d="M624.1 442.0 622.3 440.9 622.2 436.9 624.2 436.1 624.7 438.4 626.0 441.0ZM615.5 413.6 617.0 412.9 617.5 412.7 618.0 412.4 619.3 412.1 618.8 412.9 618.3 413.3 617.6 414.2 617.3 413.3ZM622.1 426.2 621.2 426.5 620.5 424.7 621.6 424.3 622.1 423.5 623.2 424.3 623.2 426.4ZM626.1 406.8 625.6 406.7 624.2 406.8 624.5 405.1 624.2 403.4 625.3 403.7 625.9 405.0 626.2 405.6 627.7 407.6ZM618.2 440.1 617.8 440.3 616.9 440.4 615.4 439.7 617.1 439.4 618.5 439.3ZM614.3 430.8 612.4 429.0 613.6 427.0 614.5 426.4 614.7 428.2ZM623.2 420.6 622.6 419.6 622.9 418.1 624.0 417.6 624.7 416.2 625.4 416.6 625.2 417.8 625.3 419.2 624.2 419.8ZM618.1 412.4 617.3 412.8 616.2 412.9 615.9 411.8 615.6 411.5 615.2 410.8 616.1 411.1 617.2 410.7 617.0 411.6ZM624.1 414.0 622.4 414.7 619.7 412.4 621.7 411.9 623.3 412.5ZM620.6 405.3 618.4 404.8 616.9 403.2 614.7 400.7 616.7 400.3 618.5 401.7 620.2 403.1ZM637.7 422.0 636.8 421.5 636.5 420.2 635.1 419.1 635.7 418.1 636.8 419.1 637.2 419.1 638.6 419.8 637.8 420.7ZM629.2 428.5 627.3 428.6 625.6 425.6 627.5 425.3 630.3 426.6ZM624.5 420.0 626.2 418.9 627.0 418.7 628.5 418.2 627.6 419.2 627.9 420.3 626.0 420.4ZM623.1 425.4 622.1 424.7 620.9 423.1 621.2 420.6 622.8 423.0 624.1 424.6ZM634.4 417.0 634.0 415.5 636.7 415.0 638.5 414.9 638.7 415.9 638.8 416.9 637.5 418.4 635.5 417.7ZM614.8 419.2 614.1 419.6 613.3 419.7 612.7 419.5 611.9 419.3 611.9 418.8 612.5 418.4 613.3 418.7 614.5 418.5ZM614.0 421.6 613.6 420.8 614.1 417.8 615.6 419.1 614.8 421.3ZM640.1 438.2 636.7 436.3 634.5 433.5 636.6 433.4 639.0 434.5ZM624.0 411.1 622.3 409.3 621.8 407.1 620.8 404.8 621.4 402.3 623.1 402.0 624.6 404.1 625.7 406.7 625.3 409.4ZM618.8 409.8 618.5 408.6 618.7 407.8 618.4 406.7 619.1 406.9 619.8 405.7 619.9 407.1 620.2 408.2 619.4 408.8Z" fill="#868686" stroke="#000" stroke-width="1.15" stroke-linejoin="round"/>
<path d="M622.2 435.8L620.9 436.0L620.5 437.2L619.7 438.1M617.5 416.0L618.1 417.1L619.2 417.5L618.9 418.6M630.8 405.7L631.6 405.3L632.2 405.8L633.0 406.3M626.5 435.9L626.5 436.6L626.3 437.2L626.5 437.9L626.9 438.4M635.8 445.1L635.7 445.7L635.6 446.3L635.8 446.9L636.1 447.5M627.2 403.9L628.7 405.3L628.4 407.2M631.2 432.7L630.5 432.8L629.7 433.0L629.5 433.7L629.6 434.5M623.4 430.0L622.3 431.0L621.2 431.8L619.8 431.9M615.0 419.3L614.0 420.2L612.7 420.7L611.4 421.3M614.8 401.2L614.8 402.8L614.2 404.3L614.7 405.8M623.1 404.0L623.8 406.9L624.9 409.5M639.0 402.8L636.3 403.3L633.6 403.7M621.7 420.0L621.2 420.7L621.2 421.5L620.4 421.7L619.6 422.0M631.3 404.0L633.1 404.5L633.9 406.1L635.4 405.0M629.1 411.2L630.1 411.6L630.2 412.6L629.9 413.6L629.9 414.6M633.0 429.6L631.7 429.6L630.5 430.2L629.2 430.0L628.9 431.3M626.5 440.1L627.5 439.9L628.4 439.8L629.4 440.1L630.3 440.0M639.5 419.4L640.6 420.2L640.1 421.5L640.5 422.8L640.2 424.1M628.5 435.3L628.6 438.3L626.9 440.8M635.3 423.3L637.2 425.4L639.7 427.0M640.3 429.7L638.3 429.7L636.6 430.8M624.7 421.7L625.1 422.4L625.5 423.1L625.4 423.8L625.6 424.6M633.2 402.1L632.0 402.4L632.0 403.6L631.3 404.5M616.4 448.4L617.0 449.8L617.2 451.3L617.1 452.8M633.1 435.2L633.4 436.4L633.9 437.4M630.1 447.9L628.7 448.2L627.3 448.4M626.0 437.8L623.5 438.4L621.3 439.6M625.0 432.8L623.3 433.6L622.5 435.3M639.0 406.3L640.2 407.7L642.0 407.7M623.4 427.7L624.9 427.7L625.0 429.1M619.7 420.2L618.0 419.3L616.9 420.9M637.4 433.3L636.8 434.3L636.0 435.3L635.5 436.5M618.7 415.2L618.2 416.5L618.1 418.0L619.4 418.7M615.2 445.0L617.6 444.3L619.9 445.5M627.6 444.2L628.6 444.3L629.5 444.1L630.4 444.2M616.9 427.6L615.9 428.5L614.5 428.7L613.5 427.8M624.0 430.1L624.9 431.9L624.6 433.9M637.5 402.4L636.3 401.9L635.1 402.4L633.9 402.4L632.6 402.5M618.7 401.8L618.2 402.3L617.9 402.8L617.2 403.0L617.1 403.6M640.0 406.1L641.2 407.5L639.6 408.5" fill="none" stroke="#000" stroke-width="1.1" stroke-linecap="round" stroke-linejoin="round"/>
<path d="M668.2 431.1 668.7 432.1 667.2 431.8 666.2 431.2 666.7 430.7 666.5 430.1 667.6 430.2 668.6 430.6ZM648.0 417.6 646.3 417.1 647.5 414.1 649.7 412.1 651.3 412.5 651.0 414.5 651.6 416.7 649.2 419.2ZM683.3 414.6 684.9 412.2 686.9 410.6 690.0 408.7 691.7 410.0 690.9 412.2 689.2 414.8 687.1 413.3ZM654.6 405.7 653.4 405.2 654.2 402.8 656.3 403.4 658.3 402.9 657.5 404.6 656.5 405.8 654.3 408.1ZM679.9 418.5 679.3 416.3 679.9 414.6 681.7 413.4 682.5 417.7ZM684.4 411.7 683.1 407.8 682.6 405.3 683.9 403.0 686.1 404.2 685.8 408.1ZM660.3 434.7 658.8 433.1 657.9 431.6 657.0 429.2 658.1 428.1 659.7 428.5 660.0 430.9 660.4 432.3ZM682.1 410.9 681.0 412.1 679.8 410.5 679.9 409.8 681.6 409.4ZM683.4 412.6 685.0 411.0 687.6 409.4 688.0 411.2 688.5 412.7 685.1 414.0ZM652.3 421.4 650.8 421.5 649.4 420.9 649.0 419.9 647.1 418.7 648.8 418.9 649.4 418.1 650.2 419.4 652.8 420.2ZM677.5 420.3 677.0 417.6 680.9 415.8 682.7 417.2 680.1 420.8ZM680.1 406.2 677.6 408.5 673.0 408.1 669.6 405.9 673.3 404.0 678.0 403.7ZM655.4 404.8 651.5 403.5 649.9 402.4 650.0 400.8 652.4 402.1ZM663.9 414.7 665.3 412.7 665.4 411.0 667.1 411.2 668.5 411.0 670.0 411.8 667.4 413.3 666.0 414.2ZM652.9 428.6 650.5 427.4 648.9 424.2 651.1 424.9 653.3 425.9ZM667.3 425.9 667.4 423.6 667.5 422.5 667.7 420.4 669.1 419.9 668.9 422.1 669.8 423.2 668.5 424.0ZM648.5 401.2 647.1 401.1 648.4 399.7 649.5 398.0 650.5 398.6 650.9 399.3 650.8 400.2 650.6 402.4 648.8 402.1ZM682.2 428.9 682.5 427.3 683.1 425.6 684.8 424.6 686.6 423.7 686.4 425.4 686.7 426.5 685.3 427.6 684.0 428.3ZM667.6 409.0 665.1 408.9 662.7 405.6 664.7 405.0 665.9 403.4 666.9 406.4ZM680.4 428.2 679.4 426.4 680.1 423.9 681.2 422.2 682.5 422.4 682.3 424.6 681.8 426.1ZM679.1 426.4 678.6 427.9 676.3 426.0 674.8 425.1 674.5 424.0 675.7 423.9 676.3 423.4 677.8 423.8 678.0 425.0ZM661.7 424.3 659.0 423.0 657.3 421.4 656.2 418.6 659.0 419.6 661.2 421.6ZM653.6 400.9 651.1 401.5 648.5 400.5 648.6 398.7 651.9 398.9ZM685.2 428.0 684.9 426.4 685.6 425.4 686.3 425.3 686.6 427.0Z" fill="#0f6924" stroke="#000" stroke-width="1.15" stroke-linejoin="round"/>
<path d="M534.5 449.0 533.2 449.0 532.3 449.7 531.6 448.7 530.3 447.9 531.7 447.6 533.0 447.2 534.7 447.9ZM539.9 459.2 539.0 458.0 538.1 457.9 538.4 456.8 538.5 456.1 539.0 456.1 539.6 456.1 540.3 457.1 540.2 458.2ZM539.8 457.9 537.2 458.1 536.1 454.6 537.1 452.2 539.1 455.6ZM544.0 460.7 542.2 459.7 540.6 456.3 542.6 454.9 543.8 454.7 544.6 456.4 544.5 458.1ZM512.2 453.3 515.6 452.1 517.3 452.1 518.7 451.7 520.7 452.0 518.9 453.1 518.8 453.9 517.2 454.7 514.6 454.6ZM520.9 449.3 518.8 450.0 516.0 448.1 517.2 446.8 519.7 447.4ZM529.1 451.2 529.5 450.1 532.3 447.5 531.7 450.2 530.3 452.9ZM538.4 447.5 538.2 446.8 539.2 445.8 540.9 445.1 540.1 446.7 539.2 448.4ZM533.6 462.7 534.4 461.6 535.7 460.8 537.0 461.0 537.8 461.7 536.4 462.6 535.2 462.7ZM530.1 451.6 530.5 450.4 530.3 449.9 530.7 448.9 531.5 448.5 531.4 449.6 532.3 449.6 531.8 450.9 530.9 451.1ZM516.1 456.3 515.0 456.6 513.7 454.9 511.3 452.5 512.6 451.0 514.6 452.2 516.5 453.1 518.0 455.9ZM518.6 460.0 516.6 461.5 516.4 458.0 517.6 455.7 519.0 454.3 520.2 456.0 520.4 458.3 520.3 461.5ZM529.3 454.6 527.8 454.2 526.8 454.0 525.8 453.0 526.6 452.5 527.7 452.1 528.5 453.4ZM536.1 454.6 534.9 455.3 534.0 452.6 535.3 451.6 536.6 453.9ZM522.2 460.2 521.7 459.8 522.0 458.2 523.5 457.6 522.8 459.8ZM535.6 448.6 533.9 448.4 531.1 447.9 532.2 446.4 533.3 445.9 535.0 447.1ZM545.8 461.8 544.9 462.3 542.6 461.1 544.3 460.7 546.3 460.5ZM534.1 461.8 532.2 462.1 529.7 462.1 529.5 460.1 532.6 460.6ZM540.2 463.3 537.0 462.4 534.5 461.3 535.8 460.2 538.9 460.3ZM538.1 460.7 537.1 459.8 537.6 458.4 538.6 457.3 539.0 459.7ZM544.0 451.9 542.6 451.2 542.8 448.7 542.3 447.4 543.0 447.0 543.7 445.4 543.9 447.8 545.3 448.7 544.9 450.5ZM522.4 459.9 522.0 460.6 520.6 460.5 519.7 459.5 519.7 458.9 518.4 457.6 520.1 457.8 521.5 458.2 521.9 459.1ZM515.7 459.6 515.5 457.8 516.1 455.7 517.4 455.9 519.5 454.6 518.6 457.2 517.3 458.9ZM521.8 449.7 520.9 450.7 518.9 449.3 516.8 447.5 518.7 446.8 517.8 444.5 519.8 446.8 521.5 446.8 522.2 448.5Z" fill="#0f6924" stroke="#000" stroke-width="1.15" stroke-linejoin="round"/>
<path d="M545.9 458.8 546.8 456.3 550.6 456.1 551.6 458.0 548.3 459.5ZM555.7 463.5 555.7 464.6 554.3 463.4 553.4 463.0 552.6 462.0 553.5 461.4 554.7 462.5 555.1 462.9ZM550.0 466.4 549.5 466.1 548.5 464.6 549.7 463.4 550.5 464.3 551.4 464.9 550.9 466.7ZM549.0 454.1 548.6 452.8 550.8 451.8 553.1 452.3 550.3 455.1ZM555.4 456.7 554.7 457.0 553.8 456.0 555.1 455.0 555.5 454.7 556.6 453.1 556.8 454.8 556.3 456.1 556.0 457.2ZM547.4 454.2 546.7 453.6 547.3 452.1 548.6 451.1 550.0 452.1 548.1 453.8Z" fill="#0f6924" stroke="#000" stroke-width="1.15" stroke-linejoin="round"/>
<path d="M572.0 448.8 570.5 447.6 572.5 446.1 574.3 447.9 575.6 448.1 577.5 449.1 575.1 449.8 573.3 450.2 572.6 449.3ZM566.0 459.1 565.2 457.0 569.4 455.7 572.2 457.4 571.5 459.3 569.3 460.5 566.5 460.5ZM560.7 448.6 561.3 447.4 563.3 447.0 564.9 447.6 564.2 449.1 561.5 449.8ZM575.0 462.3 573.8 462.0 572.5 461.7 572.7 460.8 572.5 459.9 573.6 460.7 574.9 461.2ZM568.3 461.5 567.7 459.6 567.0 457.0 568.7 456.4 570.2 457.3 570.2 460.9ZM569.1 470.4 569.1 467.9 568.6 465.1 571.0 463.7 571.8 466.3 571.1 469.7ZM567.8 472.7 567.1 473.5 565.9 471.7 564.4 471.5 564.3 470.4 564.9 470.0 565.9 470.2 566.4 471.1 567.3 471.6ZM567.2 458.0 566.7 456.9 567.5 454.9 569.4 453.7 572.4 452.8 571.4 456.9 568.4 458.7ZM571.5 467.3 571.5 466.7 572.6 466.6 573.6 465.8 574.2 466.3 573.7 466.9 574.2 467.8 572.8 467.3 572.2 467.5ZM562.0 456.4 559.8 456.4 562.1 453.5 562.9 450.6 564.0 452.2 563.9 454.0 563.5 456.5ZM572.5 455.3 571.4 455.7 570.5 453.9 569.6 450.9 571.2 450.2 572.4 452.3 573.0 453.2 574.2 455.8ZM573.9 471.0 574.3 470.5 575.2 470.5 576.3 470.8 575.6 471.6 574.1 471.7Z" fill="#0f6924" stroke="#000" stroke-width="1.15" stroke-linejoin="round"/>
<path d="M554.6 477.7 552.9 478.0 550.4 477.9 551.3 476.6 553.7 476.0ZM550.5 488.6 549.1 487.5 549.3 484.8 549.5 483.5 550.0 482.5 550.9 481.8 552.0 482.8 551.1 484.6 551.6 486.9ZM547.6 473.1 547.4 474.0 546.4 473.0 546.4 472.3 546.3 471.4 547.3 472.1 547.8 472.7ZM555.4 481.6 554.3 481.1 553.6 479.5 552.5 477.3 553.2 475.0 554.8 476.7 556.2 476.6 555.9 479.0 555.4 479.7ZM549.7 482.7 549.1 481.2 551.5 479.0 551.6 481.0 551.4 483.2ZM547.4 474.2 546.0 474.0 545.2 474.8 543.9 473.7 542.4 472.4 544.6 472.6 544.7 471.1 546.2 472.4 546.4 473.3ZM557.8 474.1 556.3 473.3 555.7 472.8 554.0 470.9 556.1 470.9 556.9 472.8ZM548.1 480.2 549.2 477.3 549.7 474.7 551.2 475.4 552.7 476.4 550.6 479.4Z" fill="#0f6924" stroke="#000" stroke-width="1.15" stroke-linejoin="round"/>
<path d="M535.3 487.2 534.3 487.0 533.4 487.1 533.4 486.1 531.9 485.0 532.8 484.7 533.7 484.6 534.4 485.6 534.8 486.3ZM515.8 484.3 515.4 483.6 516.4 482.5 517.4 482.3 517.6 482.9 517.2 483.5 516.6 484.0ZM534.1 475.9 532.6 476.5 532.1 474.2 533.1 474.0 534.8 474.7ZM534.3 473.2 533.3 473.3 532.4 472.0 532.2 470.8 533.4 471.1 533.8 472.2ZM528.7 482.6 527.2 481.0 525.9 480.5 526.7 479.4 525.9 477.1 527.3 478.1 528.3 479.3 528.7 480.8ZM522.7 474.3 522.9 475.7 520.7 474.8 519.7 474.1 519.3 473.1 521.0 473.0 523.4 473.0ZM517.6 474.3 516.5 474.0 517.1 471.9 518.1 472.0 518.8 471.4 519.0 472.5 518.3 473.3ZM518.8 481.7 517.7 479.8 517.0 477.6 518.6 476.6 520.0 479.9Z" fill="#0f6924" stroke="#000" stroke-width="1.15" stroke-linejoin="round"/>
<path d="M477.6 450.8 476.5 448.9 479.5 448.4 482.7 448.2 479.6 452.6ZM494.4 453.5 493.6 455.0 492.8 452.7 492.5 451.3 493.2 450.7 494.0 450.0 495.6 451.5 495.2 453.2ZM499.0 454.8 498.6 453.1 500.3 450.7 502.9 449.7 503.2 451.6 502.2 453.2 501.0 453.4ZM492.1 453.7 490.8 452.4 490.1 451.6 490.6 450.6 491.9 452.0ZM494.4 454.9 494.1 454.3 494.4 453.3 495.5 452.8 496.3 452.7 496.7 453.1 496.8 453.9 496.0 454.9 495.1 454.8ZM502.5 452.4 501.4 454.0 498.7 453.2 495.3 454.2 494.3 452.3 495.5 450.5 498.7 450.5 501.5 450.9ZM485.8 456.1 484.6 456.7 483.0 455.1 481.0 454.5 479.8 452.4 481.9 452.5 483.0 451.6 484.4 453.6 487.8 455.3ZM490.6 455.5 490.4 453.8 492.6 452.3 495.1 450.0 498.0 450.3 495.5 453.3 494.0 454.3 491.9 456.7ZM497.3 457.5 496.3 457.3 497.1 455.7 497.9 454.3 499.5 452.9 499.3 454.9 498.9 455.8 499.5 457.4 498.1 457.8ZM494.8 461.4 493.4 460.8 491.6 458.4 493.6 456.6 494.4 453.4 495.6 456.4 497.7 458.2 495.5 459.8ZM479.4 457.3 479.7 455.7 481.5 455.2 482.9 455.6 481.1 457.7ZM488.2 454.7 487.2 455.2 485.4 455.0 484.4 453.7 484.2 452.3 486.4 452.6 488.1 453.6ZM482.6 450.3 481.9 449.1 482.9 447.7 483.4 446.5 483.7 447.4 484.2 448.0 483.4 448.6ZM501.4 453.0 498.8 454.4 496.2 454.5 492.7 454.7 491.3 452.7 493.7 451.4 496.2 452.2 498.9 451.5ZM487.5 457.2 486.4 456.1 486.4 454.1 487.1 450.3 488.5 453.6 488.7 456.2ZM502.6 459.1 500.7 457.4 499.6 454.6 501.4 455.2 502.1 456.5ZM493.3 458.0 492.2 457.6 491.9 456.4 492.4 456.2 493.5 456.9ZM501.2 460.3 500.7 459.9 500.9 458.7 501.4 458.0 502.1 457.1 502.2 458.3 502.3 459.1 501.9 460.3ZM503.4 452.3 501.6 451.4 504.0 450.3 506.1 450.3 506.0 451.5 505.5 452.2 505.0 453.4 503.6 452.9ZM494.0 457.9 492.6 457.4 492.4 454.5 493.8 453.2 495.3 454.3 494.6 456.5ZM506.2 457.7 504.6 458.1 502.8 459.3 501.6 457.3 500.5 456.0 502.7 456.1 504.1 454.8 506.1 456.3ZM499.5 459.3 497.7 459.5 496.7 455.8 498.2 452.4 500.0 454.9 502.0 455.8 501.6 459.9Z" fill="#0f6924" stroke="#000" stroke-width="1.15" stroke-linejoin="round"/>
<path d="M480.4 482.7 479.6 482.9 478.7 483.2 477.9 482.5 476.5 481.9 476.9 481.1 478.3 481.4 479.2 481.4 480.0 481.9ZM471.6 481.9 470.2 483.0 469.0 480.1 470.6 479.0 471.5 479.0 473.4 479.4 472.1 481.4ZM465.7 477.5 466.1 475.5 466.2 474.5 466.9 474.5 467.7 474.8 466.8 476.0ZM465.9 465.0 465.3 465.3 464.3 465.0 463.6 463.5 464.2 462.9 464.3 461.8 465.2 463.4 466.5 463.5 467.0 465.1ZM478.3 480.8 478.8 480.3 478.5 479.3 479.7 479.9 480.9 479.4 481.4 480.0 480.4 480.7 479.5 481.7 478.9 480.9ZM478.6 483.2 476.6 483.7 475.3 483.6 474.1 483.3 473.0 482.6 473.1 481.2 475.6 480.0 476.8 482.2ZM468.0 477.6 467.1 477.3 467.2 475.7 468.2 474.3 468.8 477.0ZM480.9 467.6 479.8 468.1 478.7 467.7 477.2 467.2 478.0 466.6 478.9 465.9 480.1 466.8ZM476.9 485.3 478.1 483.3 479.4 481.2 480.8 482.3 478.9 484.2ZM467.3 464.0 465.7 463.1 463.7 460.5 465.5 459.1 466.8 462.2ZM476.3 483.9 477.4 483.0 478.3 481.4 480.6 481.6 481.0 483.0 479.6 484.8 476.6 485.4ZM475.2 482.6 473.7 481.1 472.3 479.5 473.6 479.2 474.8 480.7Z" fill="#0f6924" stroke="#000" stroke-width="1.15" stroke-linejoin="round"/>
<path d="M515.3 467.2 515.0 466.8 515.0 466.1 515.3 465.7 515.6 466.0 515.7 466.0 516.0 466.3 515.6 466.5ZM516.9 462.8 517.3 462.1 517.7 461.6 518.7 461.0 519.3 461.4 519.0 462.2 518.2 462.4 517.5 463.2ZM520.6 457.5 518.8 457.9 517.5 456.4 517.8 455.0 519.9 455.8ZM509.1 481.5 508.6 480.4 508.9 479.5 509.8 478.7 510.5 480.9ZM514.2 470.4 513.1 469.9 512.2 469.3 512.7 468.7 513.5 469.4ZM516.8 470.7 516.0 470.2 516.7 468.8 517.8 468.2 517.9 469.5 517.8 470.9ZM513.6 469.2 514.4 467.8 516.6 467.9 516.4 469.1 515.0 469.8ZM507.1 483.1 506.6 483.0 506.1 482.9 505.6 482.3 505.8 481.7 506.7 482.0 507.6 482.6ZM536.3 470.9 536.2 470.5 536.5 469.9 537.1 469.9 537.2 470.4 536.7 470.8ZM494.5 468.8 493.8 468.8 493.3 467.6 494.1 467.2 494.5 468.2ZM507.4 483.7 507.9 483.2 508.6 483.2 509.3 483.3 508.9 483.6 508.8 484.2 507.8 484.2ZM529.5 465.8 529.6 465.3 529.3 464.8 529.9 464.2 530.5 464.2 531.0 464.3 531.2 465.0 530.3 465.5 529.8 466.2ZM525.5 460.9 526.1 459.3 525.8 458.1 527.0 457.5 527.9 458.0 527.3 459.2 526.7 460.0ZM498.6 483.8 498.1 483.7 497.8 483.4 497.7 483.1 498.1 483.2 498.6 483.3ZM515.7 465.7 515.8 464.5 515.5 463.6 516.5 462.7 517.3 462.7 517.6 463.2 517.4 463.9 517.2 464.4 516.7 464.9ZM509.2 482.8 508.9 482.4 509.5 482.2 509.9 482.4 510.2 482.6 510.4 482.8 510.2 483.2 509.7 482.9 509.0 483.2Z" fill="#0f6924" stroke="#000" stroke-width="1.15" stroke-linejoin="round"/>
<path d="M530.1 460.7 530.1 458.5 530.8 457.2 531.0 455.0 532.2 455.2 533.5 455.7 532.3 457.8 531.6 458.8ZM515.7 462.7 515.5 462.1 515.5 461.0 516.7 459.3 517.4 461.1 516.3 462.7ZM523.2 456.4 521.9 455.3 522.9 452.3 524.8 452.1 526.6 451.5 525.4 454.1 524.6 455.3ZM537.3 449.4 536.7 448.0 535.2 446.3 537.4 445.6 538.7 442.0 538.6 445.7 539.6 447.1 538.6 449.4ZM522.5 459.6 523.3 458.1 523.9 455.1 526.9 455.3 526.9 457.2 526.1 459.1 523.6 460.7ZM534.0 452.7 532.8 452.9 531.9 451.0 531.0 449.3 532.4 449.6 532.9 448.6 533.6 450.1 534.5 451.6ZM519.8 451.7 520.3 450.0 521.2 449.2 521.9 447.4 522.4 448.4 523.4 448.7 522.4 450.1 521.4 450.9ZM517.3 454.3 514.9 453.8 513.2 451.2 512.3 449.1 513.3 448.4 514.4 447.7 515.9 449.4 515.6 450.7ZM519.0 450.8 517.7 449.9 517.0 448.6 515.3 446.7 515.9 444.8 517.6 446.3 519.2 444.5 518.8 447.8 519.2 449.1ZM523.7 453.8 522.5 454.7 520.5 453.7 519.3 452.9 519.4 451.8 521.0 450.9 523.5 452.3ZM526.8 449.0 525.6 448.9 525.8 447.1 525.3 445.1 526.5 444.8 526.9 446.8 527.4 448.2ZM535.0 452.9 534.8 451.6 535.7 450.2 537.0 448.4 538.7 448.7 537.6 451.2 536.3 452.1Z" fill="#0f6924" stroke="#000" stroke-width="1.15" stroke-linejoin="round"/>
<path d="M431.3 489.7L431.1 490.7L430.4 491.4L430.1 492.4L429.1 492.5M427.0 500.3L427.4 500.9L426.9 501.5L427.1 502.2L427.3 502.9M427.9 480.2L428.8 480.7L429.7 480.6L430.5 481.3L431.4 481.6M425.6 501.3L425.6 502.3L425.0 503.1L425.0 504.1L424.4 504.9M436.7 491.6L436.8 493.2L437.4 494.5M430.1 496.6L431.2 496.6L432.2 496.9L433.2 496.6M436.6 486.8L437.3 487.3L438.1 487.2L438.8 487.2M416.6 479.4L418.9 479.4L421.1 480.2M417.5 489.6L416.0 489.5L416.0 490.9M424.8 479.4L425.3 480.7L426.4 481.3M446.6 488.4L447.5 489.1L447.9 490.1L448.7 490.8L449.5 491.5M428.9 497.1L428.3 497.9L428.0 498.9L427.3 499.6M418.2 488.4L418.9 488.8L419.6 488.4L420.5 488.5M436.9 490.0L437.3 490.3L437.3 490.8L437.8 490.9L438.2 491.2" fill="none" stroke="#000" stroke-width="1.1" stroke-linecap="round" stroke-linejoin="round"/>
<path d="M887.0 467.9 886.5 467.3 887.6 467.0 888.8 466.7 889.1 467.5 888.1 468.2 886.9 469.0ZM880.7 468.1 879.8 466.7 881.9 465.5 883.1 465.4 884.4 466.6 882.2 468.2ZM875.7 457.1 874.8 458.5 873.7 456.7 872.9 454.7 876.0 455.7ZM898.3 478.1 897.1 478.2 895.6 478.1 894.4 476.5 894.2 475.0 895.9 475.4 896.6 475.0 898.5 475.2 897.4 476.6ZM890.0 481.0 891.3 480.2 892.7 479.4 894.3 480.1 894.1 481.3 893.0 482.8 891.2 481.7ZM899.1 461.6 897.4 460.7 896.7 459.4 896.2 457.4 897.9 458.6 899.1 459.8ZM879.8 464.7 878.7 463.6 878.8 461.7 879.5 460.8 880.3 459.0 881.0 460.4 880.9 461.9 881.2 463.9ZM881.7 467.6 879.8 466.8 879.4 464.0 880.1 462.4 880.7 461.8 881.6 460.6 882.6 461.7 883.5 463.7 882.0 464.4ZM897.3 482.5 897.0 481.7 896.5 481.1 896.9 480.2 897.3 479.1 898.0 479.6 898.5 480.2 898.3 481.3 898.0 482.3ZM879.6 459.1 879.3 458.1 879.6 456.2 881.0 456.8 881.1 457.3 881.8 458.1 880.6 459.3Z" fill="#868686" stroke="#000" stroke-width="1.15" stroke-linejoin="round"/>
<path d="M884.8 474.0L884.3 475.1L884.7 476.3L885.2 477.4M881.9 475.0L881.1 477.3L881.3 479.8M891.0 467.4L890.5 468.2L890.2 469.1L889.7 469.8L889.2 470.6M895.1 474.8L896.5 475.3L897.6 476.4L898.2 477.9M869.8 460.4L870.0 461.2L869.7 461.9L869.6 462.7L869.8 463.5M893.8 463.3L894.7 464.0L895.7 463.6L896.8 463.8M875.9 462.0L874.4 461.8L873.2 462.7M896.3 472.2L896.5 473.4L897.8 473.4L898.1 474.6L898.9 475.4M888.5 473.5L886.9 473.4L885.3 473.0M879.2 459.0L881.1 459.7L883.0 459.5M889.7 465.6L891.6 466.1L893.2 467.3L895.2 467.6M879.9 461.8L879.2 462.4L878.7 463.1L877.9 462.8L877.1 462.7M877.2 465.2L876.3 466.3L874.9 466.2M885.2 463.9L884.8 464.5L884.9 465.2L884.3 465.7L884.2 466.4" fill="none" stroke="#000" stroke-width="1.1" stroke-linecap="round" stroke-linejoin="round"/>
<path d="M622.0 371.9 620.6 372.4 619.2 372.6 618.7 371.7 618.5 371.3 617.4 369.8 619.7 370.4 620.4 371.2ZM605.5 397.1 604.7 397.5 604.3 396.2 604.8 395.8 605.2 395.9 606.1 396.7ZM614.7 386.0 614.7 387.7 612.2 386.3 609.2 385.3 609.9 383.5 612.7 383.0 614.0 385.1ZM605.4 408.1 604.3 407.4 604.9 405.8 605.4 404.7 606.5 405.0 606.0 406.9ZM583.4 389.5 582.3 388.3 582.9 386.7 583.3 385.0 584.1 386.3 584.2 388.0ZM618.7 385.1 618.2 385.1 618.1 384.4 618.6 383.7 619.0 382.9 619.5 383.2 619.2 384.1 619.2 384.5 619.1 385.3ZM586.3 392.1 586.5 390.6 588.9 390.4 591.5 389.3 592.2 390.8 589.9 392.3 587.4 393.3ZM615.1 386.1 613.7 386.1 612.7 386.2 611.1 385.6 611.9 384.9 612.0 384.2 613.3 384.5 614.3 385.1ZM604.0 406.0 602.5 405.9 603.9 404.1 605.1 404.0 606.3 403.3 607.1 404.2 605.5 405.5 604.3 407.7ZM582.2 373.7 582.5 371.1 582.8 370.1 583.0 368.3 584.0 368.4 584.6 369.2 584.5 370.7 583.9 373.1ZM594.9 399.4 595.5 398.3 597.2 398.3 598.9 397.8 600.4 398.8 597.5 399.3 595.8 400.4ZM585.1 391.2 584.8 390.3 585.9 387.0 588.2 388.1 586.0 391.0ZM590.9 386.1 590.1 384.4 593.3 384.2 596.4 382.2 596.6 384.2 594.6 385.9 592.3 386.9ZM604.5 378.0 601.7 377.7 601.2 375.0 601.9 373.9 604.4 375.3ZM615.6 412.0 614.8 412.5 613.8 411.2 613.5 410.3 612.5 408.5 614.2 409.9 615.2 410.0 615.6 411.1ZM610.8 394.1 610.2 392.8 612.6 392.8 613.8 393.3 615.2 394.4 613.1 395.4 610.9 395.2ZM595.7 370.0 596.2 368.4 596.5 367.0 598.0 366.1 598.8 366.9 598.1 368.4 597.1 369.7ZM618.3 409.2 618.0 409.9 616.7 410.0 616.1 409.4 614.7 408.9 615.2 408.0 616.9 407.9 618.5 408.3ZM611.4 386.0 609.7 384.9 612.4 383.0 614.8 380.8 614.1 383.9 613.2 387.2ZM626.4 402.9 626.3 399.9 626.7 397.3 628.9 395.1 630.3 397.8 628.5 401.1ZM599.1 398.6 597.9 398.0 599.3 396.0 600.4 395.2 601.0 395.5 602.3 395.5 601.1 397.1 600.2 398.2ZM597.7 384.1 597.1 383.2 596.7 381.9 596.9 380.0 598.0 380.0 598.8 380.7 598.8 382.1 598.3 382.9Z" fill="#868686" stroke="#000" stroke-width="1.15" stroke-linejoin="round"/>
<path d="M592.8 367.2L593.5 367.3L593.4 368.0L594.1 368.3M610.2 377.8L611.9 378.5L613.5 377.4L615.4 377.7M595.9 401.7L596.0 403.1L596.7 404.4M625.2 397.5L626.1 399.1L626.1 400.9L625.9 402.6M585.1 373.8L585.7 373.4L586.3 372.9L587.0 372.6L587.8 372.4M628.2 384.2L628.5 384.8L628.2 385.4L628.6 386.0L628.5 386.6M629.1 362.6L629.8 363.2L630.0 364.1L630.6 364.8L631.4 365.1M585.5 375.7L584.3 377.4L582.9 379.0M608.9 388.3L608.6 389.8L607.5 390.8L606.2 391.5M597.8 396.4L596.7 397.2L595.4 397.6M614.4 367.9L612.4 369.2L613.1 371.5M590.2 364.5L590.0 365.5L590.8 366.2M583.2 389.1L581.6 388.9L580.2 389.7L578.7 390.0M621.5 393.8L621.7 395.5L621.8 397.2M604.0 409.1L604.6 410.0L604.9 411.0M593.7 383.6L593.5 385.5L591.7 385.2L590.1 386.1M595.8 364.2L594.9 365.3L594.5 366.6L594.2 368.0L593.5 369.3M590.8 374.8L591.0 376.3L589.5 376.7L588.3 377.6M597.9 387.2L597.6 387.7L597.0 387.7L596.3 387.7L596.0 388.3M592.0 382.9L591.2 382.4L590.2 382.5L589.3 382.4L588.5 381.9M627.8 377.4L629.8 378.8L629.6 381.2M597.6 389.4L597.8 390.1L598.2 390.6L598.5 391.2L599.2 391.4M594.5 380.6L596.5 381.7L597.8 383.6M615.0 366.2L616.7 367.3L617.5 369.2M628.4 374.5L628.5 376.7L629.0 378.8M617.8 391.2L618.7 391.5L619.6 391.5L620.2 392.1M598.1 389.6L598.8 390.7L599.3 391.9L600.4 391.4M636.5 386.2L634.0 386.4L631.6 386.3M625.0 379.8L625.2 380.7L625.7 381.5L626.6 381.9L626.9 382.7M616.3 402.7L615.7 404.1L615.3 405.5L613.9 406.0L612.6 406.8" fill="none" stroke="#000" stroke-width="1.1" stroke-linecap="round" stroke-linejoin="round"/>
<path d="M708.2 216.3 713.3 215.0 720.9 215.6 722.2 218.2 717.1 220.7 710.7 222.0 708.2 220.7ZM740.6 207.4 747.6 207.0 749.5 209.3 745.1 211.2 741.3 210.5Z" fill="#868686" stroke="#000" stroke-width="1.15" stroke-linejoin="round"/>
<path d="M685.3 242.4 692.9 239.2 699.3 236.0 704.4 232.8 712.0 228.4 720.9 222.0 728.5 218.2 737.5 214.4M686.5 239.8 695.5 234.7 703.1 229.6 708.2 225.8 714.5 222.0 723.5 219.5 729.8 216.9M692.9 239.8 700.5 237.9 704.4 239.8M708.2 207.4 713.3 209.0 720.9 208.3 726.0 209.8 732.4 210.5 734.9 205.5 738.1 209.9 739.7 204.2 742.5 207.4M713.3 211.8 720.9 213.3 727.3 211.8 733.6 213.3 738.7 212.5M675.7 261.5 681.5 267.8 686.5 271.0 692.3 274.8" fill="none" stroke="#000" stroke-width="1.2" stroke-linejoin="round"/>
<path d="M108.3 356.5 111.3 354.8 116.2 354.0 121.1 354.0 123.5 355.3 121.9 358.1 117.8 359.2 112.9 359.2 109.3 358.6Z" fill="#868686" stroke="#000" stroke-width="1.15" stroke-linejoin="round"/>
<path d="M157.6 341.7a1.1 1.1 0 1 0 2.2 0a1.1 1.1 0 1 0 -2.2 0M192.8 360.9a1.1 1.1 0 1 0 2.2 0a1.1 1.1 0 1 0 -2.2 0M228.0 379.4a1.1 1.1 0 1 0 2.2 0a1.1 1.1 0 1 0 -2.2 0M328.9 395.5a1.1 1.1 0 1 0 2.2 0a1.1 1.1 0 1 0 -2.2 0M331.9 395.5a1.1 1.1 0 1 0 2.2 0a1.1 1.1 0 1 0 -2.2 0M330.4 397.5a1.1 1.1 0 1 0 2.2 0a1.1 1.1 0 1 0 -2.2 0" fill="#000"/>
<path d="M414.0 481.0 419.7 480.2 426.3 478.5 432.8 481.8 440.2 476.9 445.9 480.5 443.5 485.1 438.5 488.4 436.9 494.1 440.2 497.4 436.9 500.6 430.4 501.5 424.6 499.0 422.2 494.9 418.9 489.2 416.5 485.1Z" fill="#0f6924" stroke="#000" stroke-width="1.15" stroke-linejoin="round"/>
<path d="M420.8 490.3 422.3 489.4 423.7 489.2 423.9 489.8 424.5 490.7 422.5 490.8ZM428.4 500.3 428.5 499.2 429.6 498.4 430.8 497.5 431.2 498.2 431.0 499.5 429.5 500.1ZM427.1 499.9 425.8 499.8 424.1 500.3 422.3 498.7 423.3 497.7 425.2 497.3 427.2 498.8ZM428.5 499.0 428.5 500.1 427.0 499.0 426.6 498.2 425.7 497.3 426.0 496.6 426.9 495.8 428.2 497.6 428.9 498.5ZM428.8 487.6 428.1 487.5 427.5 485.6 428.5 485.9 429.2 485.8 429.4 487.3ZM435.6 486.5 434.6 487.1 433.3 485.4 431.0 484.4 431.0 482.9 433.0 483.7 434.3 484.1 435.7 485.4ZM423.8 487.9 423.2 487.1 424.1 485.7 424.3 484.3 425.4 483.5 425.2 485.3 425.9 486.4 424.7 487.8ZM436.7 496.2 435.4 497.6 432.4 497.1 431.2 496.0 432.5 495.1 434.6 495.3ZM439.4 498.7 439.0 499.4 438.4 498.6 438.7 497.6 438.8 497.0 439.2 496.8 440.0 496.7 439.9 498.2 439.8 499.0Z" fill="#868686" stroke="#000" stroke-width="1.15" stroke-linejoin="round"/>
<path d="M431.6 486.6L431.6 488.3L432.6 489.8M439.0 482.4L438.4 483.3L437.4 483.7L437.0 484.7M423.7 484.1L423.4 484.6L422.9 484.8L422.7 485.2L422.3 485.7M428.2 492.0L430.2 492.5L431.6 494.0M431.4 500.2L430.5 501.4L429.0 501.3L429.0 502.8M439.5 479.1L438.2 480.1L438.4 481.8M432.4 500.6L431.4 502.5L432.7 504.0M423.2 488.0L422.1 488.9L420.7 489.4L419.2 489.5M430.0 493.2L431.2 493.4L432.3 494.0M432.5 493.0L433.6 493.5L434.4 494.3L434.4 495.4M422.3 489.6L424.4 490.8L426.3 492.2M431.5 485.5L432.6 487.0L433.9 488.1M434.8 497.9L435.3 498.6L436.1 498.2L436.9 498.6M437.0 485.3L435.8 485.8L435.5 487.0L434.5 487.7M437.9 496.3L437.6 498.3L437.1 500.2M439.0 478.3L441.3 477.9L443.6 477.2" fill="none" stroke="#000" stroke-width="1.1" stroke-linecap="round" stroke-linejoin="round"/>
<path d="M113.8 524.4L98.2 529.6L98.2 519.2ZM137.2 523.3L122.1 529.9L121.2 519.5ZM162.4 523.7L147.3 530.3L146.4 519.9ZM187.7 523.0L173.2 530.9L171.4 520.6ZM212.1 522.4L198.4 531.4L195.7 521.4ZM110.5 556.5L95.8 549.2L103.2 541.8ZM136.9 553.0L120.5 554.0L123.2 544.0ZM164.4 550.7L148.4 554.5L149.3 544.1ZM190.4 550.0L174.8 555.2L174.8 544.8ZM215.4 548.9L200.3 555.5L199.4 545.1ZM238.5 548.6L224.8 557.6L222.1 547.6ZM262.4 545.5L252.6 558.7L246.6 550.2ZM107.3 583.8L95.0 572.8L104.0 567.6ZM131.9 582.8L119.6 571.8L128.6 566.6ZM162.5 577.0L146.1 578.0L148.8 568.0ZM189.5 577.0L173.1 578.0L175.8 568.0ZM217.3 577.0L201.0 579.4L202.8 569.1ZM244.4 575.7L228.4 579.5L229.3 569.1ZM267.8 575.7L251.8 579.5L252.7 569.1ZM291.2 575.7L275.2 579.5L276.1 569.1ZM314.7 574.3L301.8 584.6L298.3 574.8ZM125.7 610.8L121.9 594.8L132.3 595.7ZM152.3 609.8L145.7 594.7L156.1 593.8ZM181.9 607.4L168.7 597.6L177.2 591.6ZM210.7 606.8L195.3 601.3L201.7 593.1ZM238.3 604.8L221.9 604.1L225.6 594.4ZM268.8 602.7L252.8 606.5L253.7 596.1ZM296.1 604.4L279.7 605.4L282.4 595.4ZM119.2 631.5L130.2 619.2L135.4 628.2ZM144.7 631.7L156.0 619.7L160.9 628.9ZM171.2 627.7L186.3 621.1L187.2 631.5ZM203.1 633.8L199.0 617.9L209.3 618.6ZM237.2 627.6L221.6 632.8L221.6 622.4ZM261.8 624.1L250.8 636.4L245.6 627.4ZM288.5 625.7L275.1 635.3L272.0 625.3ZM128.3 660.1L117.0 648.1L126.4 643.7ZM156.9 657.7L142.5 649.8L150.1 642.7ZM184.5 656.2L168.6 652.1L174.3 643.4ZM208.5 657.1L193.3 650.8L200.1 643.0ZM236.2 655.9L220.0 652.6L225.2 643.6ZM262.0 656.0L245.7 653.9L250.3 644.5ZM289.8 652.6L274.5 658.6L273.9 648.2ZM316.4 653.0L300.8 658.2L300.8 647.8ZM112.8 680.3L96.8 684.1L97.7 673.7ZM136.3 680.4L120.0 682.8L121.8 672.5ZM162.8 679.8L146.7 683.4L147.8 673.0ZM188.4 679.7L172.4 683.5L173.3 673.1ZM212.6 682.5L196.2 681.5L200.1 671.9ZM238.9 681.0L222.5 682.0L225.2 672.0ZM262.9 682.5L246.7 680.1L251.4 670.8ZM288.8 682.9L272.6 679.6L277.8 670.6ZM316.7 680.1L300.6 683.1L302.0 672.8ZM240.7 703.8L224.4 706.2L226.2 695.9ZM319.8 606.9L303.6 603.6L308.8 594.6ZM344.8 601.6L329.5 607.6L328.9 597.2ZM370.2 602.0L354.3 606.4L354.9 596.0ZM394.8 601.6L379.2 606.8L379.2 596.4ZM418.3 598.8L405.6 609.2L401.9 599.5ZM493.6 600.1L479.7 608.9L477.2 598.8ZM514.3 609.5L504.7 596.1L514.7 593.0ZM317.1 630.9L300.7 629.0L305.1 619.6ZM344.7 631.2L328.3 630.5L332.0 620.8ZM371.4 632.8L355.3 629.8L360.3 620.7ZM396.6 632.7L380.6 628.9L386.1 620.1ZM422.3 630.8L405.9 630.1L409.6 620.4ZM446.3 631.7L430.1 628.9L435.0 619.7ZM474.2 630.5L457.8 631.8L460.3 621.7ZM499.3 623.2L486.6 633.6L482.9 623.9ZM527.8 628.3L511.8 632.1L512.7 621.7ZM317.8 653.2L302.2 658.4L302.2 648.0ZM342.8 652.6L327.5 658.6L326.9 648.2ZM370.4 653.0L354.8 658.2L354.8 647.8ZM398.8 653.2L383.2 658.4L383.2 648.0ZM425.4 653.0L409.8 658.2L409.8 647.8ZM452.8 653.6L436.9 658.0L437.5 647.6ZM479.8 653.4L464.2 658.6L464.2 648.2ZM504.8 653.0L489.2 658.2L489.2 647.8ZM528.4 653.2L512.8 658.4L512.8 648.0ZM317.8 679.0L302.2 684.2L302.2 673.8ZM344.8 679.0L329.2 684.2L329.2 673.8ZM371.8 679.0L356.2 684.2L356.2 673.8ZM399.2 679.0L383.6 684.2L383.6 673.8ZM425.8 679.3L410.0 683.9L410.4 673.5ZM452.8 680.0L436.9 684.4L437.5 674.0ZM479.8 679.4L464.2 684.6L464.2 674.2ZM504.8 679.0L489.2 684.2L489.2 673.8ZM528.4 679.0L512.8 684.2L512.8 673.8ZM346.8 703.1L330.8 706.9L331.7 696.5ZM372.8 703.1L356.8 706.9L357.7 696.5ZM400.8 702.7L384.8 706.5L385.7 696.1ZM427.7 703.1L411.6 706.1L413.0 695.8ZM456.8 702.3L440.8 706.1L441.7 695.7ZM484.8 701.2L469.2 706.4L469.2 696.0ZM509.8 701.2L494.2 706.4L494.2 696.0ZM530.8 700.5L515.7 707.1L514.8 696.7ZM561.5 530.5L563.9 514.3L573.2 519.0ZM586.9 530.2L590.7 514.2L599.5 519.7ZM610.4 527.7L620.9 515.1L626.4 523.9ZM633.8 517.2L648.1 525.3L640.4 532.3ZM656.3 519.2L672.6 520.8L668.4 530.3ZM682.8 520.6L699.2 521.9L695.1 531.4ZM712.0 530.6L720.6 516.6L727.3 524.6ZM532.5 551.5L546.1 542.3L548.9 552.2ZM560.9 555.6L564.7 539.6L573.5 545.1ZM586.3 558.7L588.2 542.3L597.6 546.7ZM604.2 556.5L615.2 544.2L620.4 553.2ZM626.7 554.1L639.6 543.8L643.1 553.6ZM650.2 547.6L666.3 544.0L665.2 554.4ZM676.5 545.6L692.9 544.6L690.2 554.6ZM702.3 549.0L718.4 545.8L717.1 556.1ZM541.7 583.3L531.4 570.4L541.2 566.9ZM564.8 584.8L558.8 569.5L569.2 568.9ZM589.0 585.8L584.6 569.9L595.0 570.5ZM615.0 586.8L609.8 571.2L620.2 571.2ZM639.0 586.2L634.6 570.3L645.0 570.9ZM656.2 575.0L671.5 569.0L672.1 579.4ZM680.9 570.3L697.3 572.2L692.9 581.6ZM707.3 574.1L723.6 572.0L721.7 582.2ZM542.2 610.1L531.1 598.0L540.6 593.8ZM572.9 605.9L556.7 603.5L561.4 594.2ZM601.5 604.5L585.1 605.2L587.9 595.3ZM628.2 606.9L612.0 603.6L617.2 594.6ZM658.4 603.3L642.4 607.1L643.3 596.7ZM684.4 602.3L668.4 606.1L669.3 595.7ZM707.6 603.6L691.3 605.5L693.5 595.3ZM727.7 607.9L712.7 601.1L719.8 593.5ZM552.3 629.5L536.0 631.6L537.9 621.4ZM575.7 631.7L559.3 629.8L563.7 620.4ZM605.2 628.0L589.3 632.4L589.9 622.0ZM631.4 627.6L615.8 632.8L615.8 622.4ZM657.8 628.7L641.8 632.5L642.7 622.1ZM681.9 631.4L665.5 630.7L669.2 621.0ZM705.2 633.1L689.2 629.3L694.7 620.5ZM732.8 633.3L716.6 630.0L721.8 621.0ZM554.4 653.8L538.5 658.2L539.1 647.8ZM579.8 653.4L564.2 658.6L564.2 648.2ZM606.4 653.2L590.8 658.4L590.8 648.0ZM633.8 652.7L618.4 658.5L618.0 648.1ZM660.7 655.1L644.6 658.1L646.0 647.8ZM679.4 658.9L663.6 654.2L669.6 645.7ZM694.0 662.2L688.8 646.6L699.2 646.6ZM717.3 661.7L717.8 645.3L727.6 648.8ZM530.7 677.3L516.0 684.6L514.6 674.3ZM558.2 675.2L544.2 683.8L541.8 673.7ZM586.6 674.4L572.5 682.7L570.3 672.5ZM612.4 676.9L597.3 683.5L596.4 673.1ZM636.8 677.4L621.2 682.6L621.2 672.2ZM651.6 691.2L640.8 678.9L650.3 674.8ZM672.6 691.1L663.6 677.4L673.6 674.7ZM686.1 692.8L689.4 676.6L698.4 681.8ZM706.6 687.5L716.4 674.3L722.4 682.8ZM529.5 699.0L515.8 708.0L513.1 698.0ZM561.3 696.9L548.4 707.2L544.9 697.4ZM632.5 698.4L618.8 707.4L616.1 697.4ZM744.0 534.7L740.8 518.6L751.1 519.9ZM771.0 516.6L776.2 532.2L765.8 532.2ZM832.8 524.0L817.2 529.2L817.2 518.8ZM853.9 519.2L849.2 535.0L840.7 529.0ZM882.7 526.4L866.6 529.6L867.9 519.3ZM730.5 553.7L744.1 544.5L746.9 554.4ZM757.3 548.4L773.5 545.7L771.9 556.0ZM785.2 550.0L800.5 544.0L801.1 554.4ZM817.9 542.8L831.4 552.1L823.1 558.4ZM858.2 543.3L848.9 556.8L842.6 548.5ZM888.3 544.3L875.4 554.6L871.9 544.8ZM731.2 577.1L746.3 570.5L747.2 580.9ZM758.2 573.6L774.3 570.0L773.2 580.4ZM789.6 569.9L805.4 574.6L799.4 583.1ZM824.4 564.2L829.6 579.8L819.2 579.8ZM858.1 562.8L852.9 578.4L844.6 572.1ZM885.8 565.4L878.7 580.2L871.2 573.0ZM748.5 608.9L736.8 597.4L746.1 592.7ZM773.6 592.0L775.5 608.3L765.3 606.1ZM803.9 588.7L801.5 604.9L792.2 600.2ZM832.7 587.8L827.5 603.4L819.2 597.1ZM857.2 588.5L853.1 604.4L844.4 598.7ZM882.6 593.6L875.0 608.2L867.8 600.7ZM759.8 627.3L744.7 633.9L743.8 623.5ZM785.1 618.5L776.2 632.3L769.7 624.3ZM806.9 615.0L802.2 630.8L793.7 624.8ZM829.1 613.5L826.7 629.7L817.4 625.0ZM854.5 616.5L852.1 632.7L842.8 628.0ZM869.6 620.5L882.7 630.6L874.1 636.4ZM899.7 617.2L903.5 633.2L893.1 632.3ZM743.5 660.5L745.9 644.3L755.2 649.0ZM779.8 653.0L764.2 658.2L764.2 647.8ZM801.5 645.5L799.1 661.7L789.8 657.0ZM815.3 646.7L829.7 654.6L822.1 661.7ZM834.5 650.0L850.9 649.0L848.2 659.0ZM860.2 651.9L876.2 648.1L875.3 658.5ZM893.1 645.2L905.4 656.2L896.4 661.4ZM728.9 686.3L740.9 675.0L745.3 684.4ZM753.7 685.9L765.2 674.2L769.9 683.5ZM782.2 679.9L797.4 673.7L798.1 684.0ZM807.6 677.9L823.3 672.9L823.1 683.3ZM833.5 674.5L849.9 673.8L847.1 683.7ZM862.8 671.3L878.8 675.1L873.3 683.9ZM782.3 703.4L796.8 695.5L798.6 705.8ZM676.7 471.2L662.2 479.1L660.4 468.8ZM702.2 469.0L689.9 479.8L685.8 470.3ZM727.7 470.9L713.3 479.0L711.4 468.8ZM620.8 503.5L607.1 494.5L615.3 488.1ZM650.3 499.0L634.2 502.2L635.5 491.9ZM677.5 490.0L667.4 503.1L661.6 494.5ZM702.0 493.3L691.5 505.9L686.0 497.1ZM728.3 506.5L714.5 497.6L722.5 491.1ZM745.8 491.2L749.4 507.3L739.0 506.2ZM766.9 494.5L781.6 501.8L774.2 509.2ZM869.9 505.1L873.7 489.1L882.5 494.6ZM897.9 507.8L891.3 492.7L901.7 491.8Z" fill="#000"/>
<path d="M437.2 652.8L433.6 652.6M464.2 653.4L460.6 653.4M489.2 653.0L485.6 653.0M437.2 679.2L433.6 679.0M464.2 679.4L460.6 679.4M489.2 679.0L485.6 679.0M665.8 549.2L669.3 549.6M691.5 549.6L695.0 550.6M717.7 551.0L721.3 551.4M564.2 653.4L560.6 653.4M645.3 652.9L641.7 652.4M515.3 679.5L511.7 680.0M543.0 678.8L539.5 679.6M571.4 677.6L567.8 678.4M596.8 678.3L593.2 678.6M621.2 677.4L617.6 677.4M546.7 702.3L543.3 703.5M873.7 549.7L870.3 550.9M849.5 654.0L853.0 655.0M743.1 679.7L746.3 678.2M767.5 678.9L770.8 677.2M848.5 678.7L852.0 679.7" stroke="#000" stroke-width="1.1" fill="none"/>
<path d="M125.9 150.1V704.4M190.4 150.1V704.4M255.0 150.1V704.4M319.5 150.1V704.4M384.1 150.1V704.4M448.6 150.1V704.4M513.2 150.1V704.4M577.8 150.1V704.4M642.3 150.1V704.4M706.8 150.1V704.4M771.4 150.1V704.4M835.9 150.1V704.4M100.45 188.7H900.5M100.45 253.2H900.5M100.45 317.6H900.5M100.45 382.1H900.5M100.45 446.6H900.5M100.45 511.1H900.5M100.45 575.5H900.5M100.45 640.0H900.5" stroke="#fff" stroke-opacity="0.62" stroke-width="1.9" fill="none"/>
<path d="M527.0 225.8L533.0 219.8L539.0 225.8L533.0 231.8Z" fill="#ffff00" stroke="#000" stroke-width="1.5"/>
<path d="M809.9 168.9L815.9 162.9L821.9 168.9L815.9 174.9Z" fill="#ffff00" stroke="#000" stroke-width="1.5"/>
<path d="M720.3 287.0L726.3 281.0L732.3 287.0L726.3 293.0Z" fill="#ffff00" stroke="#000" stroke-width="1.5"/>
<path d="M646.8 442.7L652.8 436.7L658.8 442.7L652.8 448.7Z" fill="#ffff00" stroke="#000" stroke-width="1.5"/>
<path d="M753.1 479.5L759.1 473.5L765.1 479.5L759.1 485.5Z" fill="#ffff00" stroke="#000" stroke-width="1.5"/>
<path d="M827.1 464.8L833.1 458.8L839.1 464.8L833.1 470.8Z" fill="#ffff00" stroke="#000" stroke-width="1.5"/>
<circle cx="879.3" cy="185.5" r="6.35" fill="#fff" stroke="#000" stroke-width="1.5"/>
</g>
<rect x="100.45" y="150.1" width="800.05" height="554.3" fill="none" stroke="#000" stroke-width="2.7"/>
<path d="M100.08 148.9v-3.3M100.08 705.6v3.3M106.54 148.9v-3.3M106.54 705.6v3.3M112.99 148.9v-3.3M112.99 705.6v3.3M119.45 148.9v-3.3M119.45 705.6v3.3M125.90 148.9v-7.2M125.90 705.6v7.2M132.36 148.9v-3.3M132.36 705.6v3.3M138.81 148.9v-3.3M138.81 705.6v3.3M145.27 148.9v-3.3M145.27 705.6v3.3M151.72 148.9v-3.3M151.72 705.6v3.3M158.18 148.9v-3.3M158.18 705.6v3.3M164.63 148.9v-3.3M164.63 705.6v3.3M171.09 148.9v-3.3M171.09 705.6v3.3M177.54 148.9v-3.3M177.54 705.6v3.3M184.00 148.9v-3.3M184.00 705.6v3.3M190.45 148.9v-7.2M190.45 705.6v7.2M196.91 148.9v-3.3M196.91 705.6v3.3M203.36 148.9v-3.3M203.36 705.6v3.3M209.82 148.9v-3.3M209.82 705.6v3.3M216.27 148.9v-3.3M216.27 705.6v3.3M222.72 148.9v-3.3M222.72 705.6v3.3M229.18 148.9v-3.3M229.18 705.6v3.3M235.64 148.9v-3.3M235.64 705.6v3.3M242.09 148.9v-3.3M242.09 705.6v3.3M248.55 148.9v-3.3M248.55 705.6v3.3M255.00 148.9v-7.2M255.00 705.6v7.2M261.46 148.9v-3.3M261.46 705.6v3.3M267.91 148.9v-3.3M267.91 705.6v3.3M274.37 148.9v-3.3M274.37 705.6v3.3M280.82 148.9v-3.3M280.82 705.6v3.3M287.27 148.9v-3.3M287.27 705.6v3.3M293.73 148.9v-3.3M293.73 705.6v3.3M300.19 148.9v-3.3M300.19 705.6v3.3M306.64 148.9v-3.3M306.64 705.6v3.3M313.10 148.9v-3.3M313.10 705.6v3.3M319.55 148.9v-7.2M319.55 705.6v7.2M326.01 148.9v-3.3M326.01 705.6v3.3M332.46 148.9v-3.3M332.46 705.6v3.3M338.92 148.9v-3.3M338.92 705.6v3.3M345.37 148.9v-3.3M345.37 705.6v3.3M351.82 148.9v-3.3M351.82 705.6v3.3M358.28 148.9v-3.3M358.28 705.6v3.3M364.74 148.9v-3.3M364.74 705.6v3.3M371.19 148.9v-3.3M371.19 705.6v3.3M377.65 148.9v-3.3M377.65 705.6v3.3M384.10 148.9v-7.2M384.10 705.6v7.2M390.56 148.9v-3.3M390.56 705.6v3.3M397.01 148.9v-3.3M397.01 705.6v3.3M403.47 148.9v-3.3M403.47 705.6v3.3M409.92 148.9v-3.3M409.92 705.6v3.3M416.38 148.9v-3.3M416.38 705.6v3.3M422.83 148.9v-3.3M422.83 705.6v3.3M429.29 148.9v-3.3M429.29 705.6v3.3M435.74 148.9v-3.3M435.74 705.6v3.3M442.20 148.9v-3.3M442.20 705.6v3.3M448.65 148.9v-7.2M448.65 705.6v7.2M455.11 148.9v-3.3M455.11 705.6v3.3M461.56 148.9v-3.3M461.56 705.6v3.3M468.02 148.9v-3.3M468.02 705.6v3.3M474.47 148.9v-3.3M474.47 705.6v3.3M480.92 148.9v-3.3M480.92 705.6v3.3M487.38 148.9v-3.3M487.38 705.6v3.3M493.84 148.9v-3.3M493.84 705.6v3.3M500.29 148.9v-3.3M500.29 705.6v3.3M506.75 148.9v-3.3M506.75 705.6v3.3M513.20 148.9v-7.2M513.20 705.6v7.2M519.66 148.9v-3.3M519.66 705.6v3.3M526.11 148.9v-3.3M526.11 705.6v3.3M532.57 148.9v-3.3M532.57 705.6v3.3M539.02 148.9v-3.3M539.02 705.6v3.3M545.48 148.9v-3.3M545.48 705.6v3.3M551.93 148.9v-3.3M551.93 705.6v3.3M558.39 148.9v-3.3M558.39 705.6v3.3M564.84 148.9v-3.3M564.84 705.6v3.3M571.30 148.9v-3.3M571.30 705.6v3.3M577.75 148.9v-7.2M577.75 705.6v7.2M584.21 148.9v-3.3M584.21 705.6v3.3M590.66 148.9v-3.3M590.66 705.6v3.3M597.12 148.9v-3.3M597.12 705.6v3.3M603.57 148.9v-3.3M603.57 705.6v3.3M610.02 148.9v-3.3M610.02 705.6v3.3M616.48 148.9v-3.3M616.48 705.6v3.3M622.94 148.9v-3.3M622.94 705.6v3.3M629.39 148.9v-3.3M629.39 705.6v3.3M635.85 148.9v-3.3M635.85 705.6v3.3M642.30 148.9v-7.2M642.30 705.6v7.2M648.76 148.9v-3.3M648.76 705.6v3.3M655.21 148.9v-3.3M655.21 705.6v3.3M661.67 148.9v-3.3M661.67 705.6v3.3M668.12 148.9v-3.3M668.12 705.6v3.3M674.57 148.9v-3.3M674.57 705.6v3.3M681.03 148.9v-3.3M681.03 705.6v3.3M687.49 148.9v-3.3M687.49 705.6v3.3M693.94 148.9v-3.3M693.94 705.6v3.3M700.40 148.9v-3.3M700.40 705.6v3.3M706.85 148.9v-7.2M706.85 705.6v7.2M713.31 148.9v-3.3M713.31 705.6v3.3M719.76 148.9v-3.3M719.76 705.6v3.3M726.22 148.9v-3.3M726.22 705.6v3.3M732.67 148.9v-3.3M732.67 705.6v3.3M739.12 148.9v-3.3M739.12 705.6v3.3M745.58 148.9v-3.3M745.58 705.6v3.3M752.04 148.9v-3.3M752.04 705.6v3.3M758.49 148.9v-3.3M758.49 705.6v3.3M764.95 148.9v-3.3M764.95 705.6v3.3M771.40 148.9v-7.2M771.40 705.6v7.2M777.86 148.9v-3.3M777.86 705.6v3.3M784.31 148.9v-3.3M784.31 705.6v3.3M790.77 148.9v-3.3M790.77 705.6v3.3M797.22 148.9v-3.3M797.22 705.6v3.3M803.67 148.9v-3.3M803.67 705.6v3.3M810.13 148.9v-3.3M810.13 705.6v3.3M816.59 148.9v-3.3M816.59 705.6v3.3M823.04 148.9v-3.3M823.04 705.6v3.3M829.50 148.9v-3.3M829.50 705.6v3.3M835.95 148.9v-7.2M835.95 705.6v7.2M842.41 148.9v-3.3M842.41 705.6v3.3M848.86 148.9v-3.3M848.86 705.6v3.3M855.32 148.9v-3.3M855.32 705.6v3.3M861.77 148.9v-3.3M861.77 705.6v3.3M868.22 148.9v-3.3M868.22 705.6v3.3M874.68 148.9v-3.3M874.68 705.6v3.3M881.14 148.9v-3.3M881.14 705.6v3.3M887.59 148.9v-3.3M887.59 705.6v3.3M894.05 148.9v-3.3M894.05 705.6v3.3M900.50 148.9v-7.2M900.50 705.6v7.2M99.25 704.48h-7.2M901.7 704.48h7.2M99.25 698.03h-3.3M901.7 698.03h3.3M99.25 691.58h-3.3M901.7 691.58h3.3M99.25 685.13h-3.3M901.7 685.13h3.3M99.25 678.68h-3.3M901.7 678.68h3.3M99.25 672.24h-3.3M901.7 672.24h3.3M99.25 665.79h-3.3M901.7 665.79h3.3M99.25 659.34h-3.3M901.7 659.34h3.3M99.25 652.90h-3.3M901.7 652.90h3.3M99.25 646.45h-3.3M901.7 646.45h3.3M99.25 640.00h-7.2M901.7 640.00h7.2M99.25 633.55h-3.3M901.7 633.55h3.3M99.25 627.10h-3.3M901.7 627.10h3.3M99.25 620.66h-3.3M901.7 620.66h3.3M99.25 614.21h-3.3M901.7 614.21h3.3M99.25 607.76h-3.3M901.7 607.76h3.3M99.25 601.32h-3.3M901.7 601.32h3.3M99.25 594.87h-3.3M901.7 594.87h3.3M99.25 588.42h-3.3M901.7 588.42h3.3M99.25 581.97h-3.3M901.7 581.97h3.3M99.25 575.52h-7.2M901.7 575.52h7.2M99.25 569.08h-3.3M901.7 569.08h3.3M99.25 562.63h-3.3M901.7 562.63h3.3M99.25 556.18h-3.3M901.7 556.18h3.3M99.25 549.73h-3.3M901.7 549.73h3.3M99.25 543.29h-3.3M901.7 543.29h3.3M99.25 536.84h-3.3M901.7 536.84h3.3M99.25 530.39h-3.3M901.7 530.39h3.3M99.25 523.95h-3.3M901.7 523.95h3.3M99.25 517.50h-3.3M901.7 517.50h3.3M99.25 511.05h-7.2M901.7 511.05h7.2M99.25 504.60h-3.3M901.7 504.60h3.3M99.25 498.15h-3.3M901.7 498.15h3.3M99.25 491.71h-3.3M901.7 491.71h3.3M99.25 485.26h-3.3M901.7 485.26h3.3M99.25 478.81h-3.3M901.7 478.81h3.3M99.25 472.37h-3.3M901.7 472.37h3.3M99.25 465.92h-3.3M901.7 465.92h3.3M99.25 459.47h-3.3M901.7 459.47h3.3M99.25 453.02h-3.3M901.7 453.02h3.3M99.25 446.58h-7.2M901.7 446.58h7.2M99.25 440.13h-3.3M901.7 440.13h3.3M99.25 433.68h-3.3M901.7 433.68h3.3M99.25 427.23h-3.3M901.7 427.23h3.3M99.25 420.78h-3.3M901.7 420.78h3.3M99.25 414.34h-3.3M901.7 414.34h3.3M99.25 407.89h-3.3M901.7 407.89h3.3M99.25 401.44h-3.3M901.7 401.44h3.3M99.25 395.00h-3.3M901.7 395.00h3.3M99.25 388.55h-3.3M901.7 388.55h3.3M99.25 382.10h-7.2M901.7 382.10h7.2M99.25 375.65h-3.3M901.7 375.65h3.3M99.25 369.20h-3.3M901.7 369.20h3.3M99.25 362.76h-3.3M901.7 362.76h3.3M99.25 356.31h-3.3M901.7 356.31h3.3M99.25 349.86h-3.3M901.7 349.86h3.3M99.25 343.42h-3.3M901.7 343.42h3.3M99.25 336.97h-3.3M901.7 336.97h3.3M99.25 330.52h-3.3M901.7 330.52h3.3M99.25 324.07h-3.3M901.7 324.07h3.3M99.25 317.62h-7.2M901.7 317.62h7.2M99.25 311.18h-3.3M901.7 311.18h3.3M99.25 304.73h-3.3M901.7 304.73h3.3M99.25 298.28h-3.3M901.7 298.28h3.3M99.25 291.83h-3.3M901.7 291.83h3.3M99.25 285.39h-3.3M901.7 285.39h3.3M99.25 278.94h-3.3M901.7 278.94h3.3M99.25 272.49h-3.3M901.7 272.49h3.3M99.25 266.05h-3.3M901.7 266.05h3.3M99.25 259.60h-3.3M901.7 259.60h3.3M99.25 253.15h-7.2M901.7 253.15h7.2M99.25 246.70h-3.3M901.7 246.70h3.3M99.25 240.25h-3.3M901.7 240.25h3.3M99.25 233.81h-3.3M901.7 233.81h3.3M99.25 227.36h-3.3M901.7 227.36h3.3M99.25 220.91h-3.3M901.7 220.91h3.3M99.25 214.47h-3.3M901.7 214.47h3.3M99.25 208.02h-3.3M901.7 208.02h3.3M99.25 201.57h-3.3M901.7 201.57h3.3M99.25 195.12h-3.3M901.7 195.12h3.3M99.25 188.68h-7.2M901.7 188.68h7.2M99.25 182.23h-3.3M901.7 182.23h3.3M99.25 175.78h-3.3M901.7 175.78h3.3M99.25 169.33h-3.3M901.7 169.33h3.3M99.25 162.88h-3.3M901.7 162.88h3.3M99.25 156.44h-3.3M901.7 156.44h3.3M99.25 149.99h-3.3M901.7 149.99h3.3" stroke="#000" stroke-width="1.5" fill="none"/>
<g font-family="'Liberation Sans', Arial, Helvetica, sans-serif" font-size="11" fill="#000">
<text x="126.0" y="135" text-anchor="middle" textLength="38" lengthAdjust="spacingAndGlyphs">–92°00'</text>
<text x="126.0" y="727.6" text-anchor="middle" textLength="38" lengthAdjust="spacingAndGlyphs">–92°00'</text>
<text x="190.5" y="135" text-anchor="middle" textLength="38" lengthAdjust="spacingAndGlyphs">–91°45'</text>
<text x="190.5" y="727.6" text-anchor="middle" textLength="38" lengthAdjust="spacingAndGlyphs">–91°45'</text>
<text x="255.1" y="135" text-anchor="middle" textLength="38" lengthAdjust="spacingAndGlyphs">–91°30'</text>
<text x="255.1" y="727.6" text-anchor="middle" textLength="38" lengthAdjust="spacingAndGlyphs">–91°30'</text>
<text x="319.6" y="135" text-anchor="middle" textLength="38" lengthAdjust="spacingAndGlyphs">–91°15'</text>
<text x="319.6" y="727.6" text-anchor="middle" textLength="38" lengthAdjust="spacingAndGlyphs">–91°15'</text>
<text x="384.2" y="135" text-anchor="middle" textLength="38" lengthAdjust="spacingAndGlyphs">–91°00'</text>
<text x="384.2" y="727.6" text-anchor="middle" textLength="38" lengthAdjust="spacingAndGlyphs">–91°00'</text>
<text x="448.8" y="135" text-anchor="middle" textLength="38" lengthAdjust="spacingAndGlyphs">–90°45'</text>
<text x="448.8" y="727.6" text-anchor="middle" textLength="38" lengthAdjust="spacingAndGlyphs">–90°45'</text>
<text x="513.3" y="135" text-anchor="middle" textLength="38" lengthAdjust="spacingAndGlyphs">–90°30'</text>
<text x="513.3" y="727.6" text-anchor="middle" textLength="38" lengthAdjust="spacingAndGlyphs">–90°30'</text>
<text x="577.9" y="135" text-anchor="middle" textLength="38" lengthAdjust="spacingAndGlyphs">–90°15'</text>
<text x="577.9" y="727.6" text-anchor="middle" textLength="38" lengthAdjust="spacingAndGlyphs">–90°15'</text>
<text x="642.4" y="135" text-anchor="middle" textLength="38" lengthAdjust="spacingAndGlyphs">–90°00'</text>
<text x="642.4" y="727.6" text-anchor="middle" textLength="38" lengthAdjust="spacingAndGlyphs">–90°00'</text>
<text x="706.9" y="135" text-anchor="middle" textLength="38" lengthAdjust="spacingAndGlyphs">–89°45'</text>
<text x="706.9" y="727.6" text-anchor="middle" textLength="38" lengthAdjust="spacingAndGlyphs">–89°45'</text>
<text x="771.5" y="135" text-anchor="middle" textLength="38" lengthAdjust="spacingAndGlyphs">–89°30'</text>
<text x="771.5" y="727.6" text-anchor="middle" textLength="38" lengthAdjust="spacingAndGlyphs">–89°30'</text>
<text x="836.0" y="135" text-anchor="middle" textLength="38" lengthAdjust="spacingAndGlyphs">–89°15'</text>
<text x="836.0" y="727.6" text-anchor="middle" textLength="38" lengthAdjust="spacingAndGlyphs">–89°15'</text>
<text x="900.6" y="135" text-anchor="middle" textLength="38" lengthAdjust="spacingAndGlyphs">–89°00'</text>
<text x="900.6" y="727.6" text-anchor="middle" textLength="38" lengthAdjust="spacingAndGlyphs">–89°00'</text>
<text x="85" y="192.5" text-anchor="end" textLength="30.9" lengthAdjust="spacingAndGlyphs">30°15'</text>
<text x="915.3" y="192.5" textLength="30.9" lengthAdjust="spacingAndGlyphs">30°15'</text>
<text x="85" y="257.0" text-anchor="end" textLength="30.9" lengthAdjust="spacingAndGlyphs">30°00'</text>
<text x="915.3" y="257.0" textLength="30.9" lengthAdjust="spacingAndGlyphs">30°00'</text>
<text x="85" y="321.4" text-anchor="end" textLength="30.9" lengthAdjust="spacingAndGlyphs">29°45'</text>
<text x="915.3" y="321.4" textLength="30.9" lengthAdjust="spacingAndGlyphs">29°45'</text>
<text x="85" y="385.9" text-anchor="end" textLength="30.9" lengthAdjust="spacingAndGlyphs">29°30'</text>
<text x="915.3" y="385.9" textLength="30.9" lengthAdjust="spacingAndGlyphs">29°30'</text>
<text x="85" y="450.4" text-anchor="end" textLength="30.9" lengthAdjust="spacingAndGlyphs">29°15'</text>
<text x="915.3" y="450.4" textLength="30.9" lengthAdjust="spacingAndGlyphs">29°15'</text>
<text x="85" y="514.9" text-anchor="end" textLength="30.9" lengthAdjust="spacingAndGlyphs">29°00'</text>
<text x="915.3" y="514.9" textLength="30.9" lengthAdjust="spacingAndGlyphs">29°00'</text>
<text x="85" y="579.3" text-anchor="end" textLength="30.9" lengthAdjust="spacingAndGlyphs">28°45'</text>
<text x="915.3" y="579.3" textLength="30.9" lengthAdjust="spacingAndGlyphs">28°45'</text>
<text x="85" y="643.8" text-anchor="end" textLength="30.9" lengthAdjust="spacingAndGlyphs">28°30'</text>
<text x="915.3" y="643.8" textLength="30.9" lengthAdjust="spacingAndGlyphs">28°30'</text>
<text x="85" y="708.3" text-anchor="end" textLength="30.9" lengthAdjust="spacingAndGlyphs">28°15'</text>
<text x="915.3" y="708.3" textLength="30.9" lengthAdjust="spacingAndGlyphs">28°15'</text>
</g>
<text x="273.6" y="29.6" font-family="'Liberation Sans', Arial, Helvetica, sans-serif" font-weight="bold" font-size="19.4" textLength="452.4" lengthAdjust="spacingAndGlyphs">Mississippi River Outflow Ocean Cube (NGOFS2)</text>
<text x="273.6" y="799.6" font-family="'Liberation Sans', Arial, Helvetica, sans-serif" font-weight="bold" font-size="19.4" textLength="452.4" lengthAdjust="spacingAndGlyphs">Mississippi River Outflow Ocean Cube (NGOFS2)</text>
<text x="280.4" y="114.4" font-family="'Liberation Serif', 'Times New Roman', Times, serif" font-weight="bold" font-size="18.05" textLength="438.8" lengthAdjust="spacingAndGlyphs">Salinity at 65 Feet FORECAST valid Oct 15 2025 18:00Z</text>
<text x="783.6" y="109.6" font-family="'Liberation Serif', 'Times New Roman', Times, serif" font-weight="bold" font-size="13.8" textLength="115.5" lengthAdjust="spacingAndGlyphs">Miss River Outflow</text>
<circle cx="120.05" cy="44.8" r="6.1" fill="#fff" stroke="#000" stroke-width="1.75"/>
<text x="130.4" y="49.3" font-family="'Liberation Sans', Arial, Helvetica, sans-serif" font-weight="bold" font-size="13.7" textLength="138.2" lengthAdjust="spacingAndGlyphs">USM Instrumentation</text>
<path d="M113.65 59.8L120.05 53.4L126.45 59.8L120.05 66.2Z" fill="#ffff00" stroke="#000" stroke-width="1.7"/>
<text x="130.4" y="64" font-family="'Liberation Sans', Arial, Helvetica, sans-serif" font-weight="bold" font-size="13.7" textLength="90" lengthAdjust="spacingAndGlyphs">NDBC Station</text>
<rect x="698.9" y="39.9" width="196.2" height="39.4" fill="#fff" stroke="#000" stroke-width="1.8"/>
<text x="704" y="54.9" font-family="'Liberation Sans', Arial, Helvetica, sans-serif" font-weight="bold" font-size="12.1" textLength="44.6" lengthAdjust="spacingAndGlyphs">1.00 kts</text>
<path d="M843 50.0H880" stroke="#000" stroke-width="0.7" fill="none"/>
<path d="M878.8 45.5L893.4 50.0L878.8 54.5Z" fill="#000"/>
<text x="704" y="64.7" font-family="'Liberation Sans', Arial, Helvetica, sans-serif" font-weight="bold" font-size="12.1" textLength="44.6" lengthAdjust="spacingAndGlyphs">2.00 kts</text>
<path d="M801 60.1H880" stroke="#000" stroke-width="0.7" fill="none"/>
<path d="M878.8 55.6L893.4 60.1L878.8 64.6Z" fill="#000"/>
<text x="704" y="74.5" font-family="'Liberation Sans', Arial, Helvetica, sans-serif" font-weight="bold" font-size="12.1" textLength="44.6" lengthAdjust="spacingAndGlyphs">3.00 kts</text>
<path d="M759 70.2H880" stroke="#000" stroke-width="0.7" fill="none"/>
<path d="M878.8 65.7L893.4 70.2L878.8 74.7Z" fill="#000"/>
<text x="699.4" y="93.6" font-family="'Liberation Sans', Arial, Helvetica, sans-serif" font-weight="bold" font-size="11.2" textLength="105.6" lengthAdjust="spacingAndGlyphs">CURRENTS Vectors</text>
<rect x="979.9" y="277.0" width="20.600000000000023" height="300.20000000000005" fill="url(#turbo)"/>
<path d="M979.9 277.0V577.2M1000.5 277.0V577.2" stroke="#000" stroke-width="2.6" fill="none"/>
<g font-family="'Liberation Sans', Arial, Helvetica, sans-serif" font-size="10.8" fill="#000">
<path d="M978.6999999999999 277.0H1001.7" stroke="#a8a8a8" stroke-width="1.5"/>
<path d="M1001.7 277.0H1008.7" stroke="#000" stroke-width="1.3"/>
<text x="1035.8" y="280.9" text-anchor="end">38.0</text>
<path d="M978.6999999999999 307.0H1001.7" stroke="#a8a8a8" stroke-width="1.5"/>
<path d="M1001.7 307.0H1008.7" stroke="#000" stroke-width="1.3"/>
<text x="1035.8" y="310.9" text-anchor="end">34.6</text>
<path d="M978.6999999999999 337.0H1001.7" stroke="#a8a8a8" stroke-width="1.5"/>
<path d="M1001.7 337.0H1008.7" stroke="#000" stroke-width="1.3"/>
<text x="1035.8" y="340.9" text-anchor="end">31.2</text>
<path d="M978.6999999999999 367.1H1001.7" stroke="#a8a8a8" stroke-width="1.5"/>
<path d="M1001.7 367.1H1008.7" stroke="#000" stroke-width="1.3"/>
<text x="1035.8" y="371.0" text-anchor="end">27.8</text>
<path d="M978.6999999999999 397.1H1001.7" stroke="#a8a8a8" stroke-width="1.5"/>
<path d="M1001.7 397.1H1008.7" stroke="#000" stroke-width="1.3"/>
<text x="1035.8" y="401.0" text-anchor="end">24.4</text>
<path d="M978.6999999999999 427.1H1001.7" stroke="#a8a8a8" stroke-width="1.5"/>
<path d="M1001.7 427.1H1008.7" stroke="#000" stroke-width="1.3"/>
<text x="1035.8" y="431.0" text-anchor="end">21.0</text>
<path d="M978.6999999999999 457.1H1001.7" stroke="#a8a8a8" stroke-width="1.5"/>
<path d="M1001.7 457.1H1008.7" stroke="#000" stroke-width="1.3"/>
<text x="1035.8" y="461.0" text-anchor="end">17.6</text>
<path d="M978.6999999999999 487.1H1001.7" stroke="#a8a8a8" stroke-width="1.5"/>
<path d="M1001.7 487.1H1008.7" stroke="#000" stroke-width="1.3"/>
<text x="1035.8" y="491.0" text-anchor="end">14.2</text>
<path d="M978.6999999999999 517.2H1001.7" stroke="#a8a8a8" stroke-width="1.5"/>
<path d="M1001.7 517.2H1008.7" stroke="#000" stroke-width="1.3"/>
<text x="1035.8" y="521.1" text-anchor="end">10.8</text>
<path d="M978.6999999999999 547.2H1001.7" stroke="#a8a8a8" stroke-width="1.5"/>
<path d="M1001.7 547.2H1008.7" stroke="#000" stroke-width="1.3"/>
<text x="1035.8" y="551.1" text-anchor="end">7.4</text>
<path d="M978.6999999999999 577.2H1001.7" stroke="#a8a8a8" stroke-width="1.5"/>
<path d="M1001.7 577.2H1008.7" stroke="#000" stroke-width="1.3"/>
<text x="1035.8" y="581.1" text-anchor="end">4.0</text>
</g>
<text transform="translate(1055.1 427.1) rotate(-90)" text-anchor="middle" font-family="'Liberation Sans', Arial, Helvetica, sans-serif" font-weight="bold" font-size="13.8" textLength="86.9" lengthAdjust="spacingAndGlyphs">Salinity (psu)</text>
</svg>
</body></html>
